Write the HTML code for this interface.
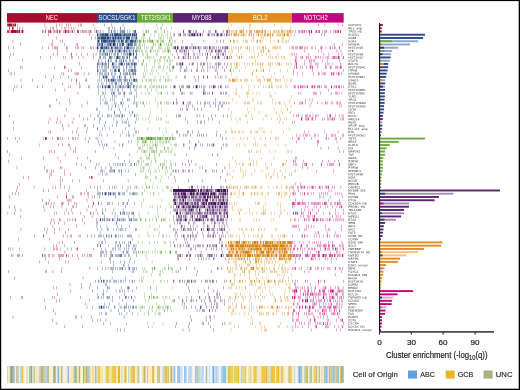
<!DOCTYPE html><html><head><meta charset="utf-8"><style>html,body{margin:0;padding:0;background:#fff;width:520px;height:390px;overflow:hidden}svg{display:block;will-change:transform;font-family:"Liberation Sans",sans-serif}</style></head><body><svg width="520" height="390" viewBox="0 0 520 390"><rect width="520" height="390" fill="#fff"/><g><path d="M7.00 25.00h0.73m0.36 0h3.99m0.36 0h0.36m0.36 0h1.09m0.36 0h1.45m1.09 0h0.36m27.22 0h0.36m11.25 0h0.36m2.90 0h0.36m1.81 0h0.36m3.99 0h0.36m1.81 0h0.36m1.81 0h0.36m7.62 0h0.36m1.81 0h0.36m0.36 0h0.36m11.25 0h0.36M9.18 28.25h0.73m2.18 0h1.09m0.36 0h0.36m3.27 0h0.36m1.81 0h0.36m2.90 0h0.36m22.86 0h0.36m4.35 0h0.36m1.81 0h0.36m0.36 0h0.36m2.90 0h0.36m4.72 0h0.36m2.54 0h0.36m0.73 0h0.36m2.54 0h0.36m2.54 0h0.36m1.81 0h0.36m20.69 0h0.36M7.00 31.49h0.73m0.36 0h0.73m0.73 0h0.36m0.36 0h0.36m0.36 0h5.81m0.36 0h1.45m0.36 0h1.09m1.09 0h0.36m0.36 0h1.45m18.87 0h0.36m0.36 0h0.36m1.81 0h0.73m2.54 0h1.09m0.73 0h1.09m2.18 0h0.36m0.73 0h0.73m1.09 0h0.36m0.36 0h0.73m1.45 0h0.73m0.36 0h0.36m2.54 0h0.36m1.09 0h1.45m0.36 0h0.36m0.73 0h0.36m0.36 0h0.73m0.73 0h0.36m0.73 0h0.36m0.73 0h0.73m1.81 0h0.36m2.18 0h0.73m0.36 0h0.73m1.81 0h0.36m1.45 0h0.73m0.73 0h0.36m1.09 0h0.36m0.36 0h0.36m1.45 0h0.36m0.73 0h0.36m1.09 0h0.73m3.63 0h0.36m1.09 0h0.73M48.37 34.73h0.36m40.28 0h0.36M56.72 37.98h0.36m34.48 0h0.36m3.27 0h0.36M12.81 41.23h0.36m38.83 0h0.36m8.35 0h0.36m1.09 0h0.36M20.06 44.47h0.36m30.48 0h0.36m1.45 0h0.36m11.61 0h0.36m10.89 0h0.36m1.09 0h0.36M8.09 47.72h0.36m4.72 0h0.36m29.03 0h0.36m5.08 0h0.36m4.35 0h0.36m1.45 0h0.36m0.73 0h0.73m1.09 0h0.36m8.71 0h0.73m8.35 0h0.36m1.09 0h0.36m0.73 0h0.36m3.27 0h0.36m1.09 0h0.36m6.90 0h0.36m0.36 0h0.36m1.45 0h0.36m2.54 0h0.36M57.08 50.96h0.36m9.44 0h0.36M10.63 54.20h0.36m2.54 0h0.36m39.19 0h0.36m3.63 0h0.36m13.43 0h0.36m0.36 0h0.36m3.99 0h0.36m4.72 0h0.36m5.81 0h0.36m5.81 0h0.36m2.18 0h0.36M9.18 57.45h0.36m30.85 0h0.36m9.80 0h0.36m12.34 0h0.36m1.81 0h0.36m5.81 0h0.73m5.81 0h0.36m4.35 0h0.36m10.16 0h0.36M22.24 60.70h0.36M79.58 63.94h0.36M20.06 67.19h0.36m1.45 0h0.36m32.30 0h0.36m9.07 0h0.36m0.36 0h0.36m0.73 0h0.36m15.24 0h0.36M8.09 70.43h0.36m59.88 0h0.36m2.90 0h0.36M9.90 73.68h0.36m1.45 0h0.36m2.54 0h0.36m46.81 0h0.36m1.09 0h0.36m11.25 0h0.36m0.73 0h0.36m0.73 0h0.36m0.73 0h0.36m5.44 0h0.36m3.99 0h0.36M45.10 76.92h0.36m7.98 0h0.36m6.53 0h0.36m7.62 0h0.36M20.79 80.16h0.36m10.89 0h0.36m18.87 0h0.36m19.96 0h0.36m3.99 0h0.36m0.36 0h0.36m8.71 0h0.36m0.36 0h0.36M62.52 83.41h0.36m13.79 0h0.36m2.54 0h0.36M14.62 86.66h0.36m1.81 0h0.36m3.99 0h0.36m15.97 0h0.36m4.72 0h0.36m25.77 0h0.36m1.45 0h0.36m8.35 0h0.36m0.36 0h0.36m8.35 0h0.73M13.53 89.90h0.36m41.73 0h0.36m7.98 0h0.36M77.77 93.14h0.36M56.35 99.64h0.36m12.70 0h0.36M59.26 102.88h0.36m10.16 0h0.36m17.42 0h0.36M49.10 106.12h0.36m0.73 0h0.36m31.21 0h0.36M66.52 109.37h0.36m29.40 0h0.36M9.54 115.86h0.36m54.80 0h0.36m14.52 0h0.36m10.52 0h0.36M49.82 119.11h0.36m7.26 0h0.36m15.97 0h0.36m9.44 0h0.36m3.63 0h0.36m6.53 0h0.36M13.53 122.35h0.36m34.11 0h0.36m7.98 0h0.36m3.27 0h0.36m11.61 0h0.36M62.52 125.59h0.36m5.81 0h0.36m15.60 0h0.73m7.62 0h0.36M13.17 128.84h0.36m50.08 0h0.36m13.79 0h0.36m9.07 0h0.36M48.73 132.09h0.36m1.45 0h0.36m21.05 0h0.36m3.99 0h0.36m9.44 0h0.36M78.13 135.33h0.36M7.00 138.57h0.36m7.98 0h0.36m3.27 0h0.36m23.59 0h0.36m1.81 0h1.45m5.44 0h0.36m5.08 0h0.73m0.36 0h0.36m1.09 0h0.36m1.81 0h0.36m5.81 0h0.36m3.63 0h0.36m0.36 0h0.36m1.81 0h0.36m2.18 0h0.36m6.90 0h0.36m4.35 0h0.36m5.81 0h0.36M17.52 141.82h0.36m70.77 0h0.36M39.66 145.06h0.36m18.51 0h0.36m3.27 0h0.36m5.81 0h0.36m0.36 0h0.36M70.51 148.31h0.36m4.35 0h0.36M7.00 151.56h0.36m42.10 0h0.36m1.81 0h0.36m2.18 0h0.36m18.51 0h0.36m1.81 0h0.36m19.60 0h0.36M9.18 154.80h0.36m55.89 0h0.36M21.15 158.05h0.36m21.77 0h0.36m14.15 0h0.36m18.87 0h0.36m9.80 0h0.36M8.45 161.29h0.36m51.17 0h0.36m29.76 0h0.36M76.31 164.53h0.36m4.72 0h0.36m14.52 0h0.36M16.80 167.78h0.36m27.22 0h0.36m15.60 0h0.36m1.09 0h0.36m22.86 0h0.36m10.16 0h0.36M46.19 171.03h0.36m1.09 0h0.36m3.63 0h0.36m1.45 0h0.36m10.52 0h0.36M49.82 174.27h0.36m0.73 0h0.36m13.43 0h0.36m5.44 0h0.36M22.97 177.52h0.36m5.08 0h0.36m20.69 0h0.36m10.52 0h0.36m28.31 0h0.36m1.81 0h0.73m0.73 0h0.36M59.98 180.76h0.36m2.18 0h0.36m9.80 0h0.36m6.53 0h0.36M19.34 184.00h0.36m41.01 0h0.36M17.52 187.25h0.36m15.97 0h0.36m18.51 0h0.36m2.18 0h0.36m4.72 0h0.36m3.63 0h0.36m4.72 0h0.36m20.32 0h0.36m3.99 0h0.36M16.07 190.50h0.36m27.22 0h0.36m4.35 0h0.36m19.96 0h0.36m17.42 0h0.36M12.08 193.74h0.36m2.54 0h0.36m2.90 0h0.36m47.90 0h0.36m13.43 0h0.36m0.73 0h0.36m2.90 0h0.36m2.54 0h0.36m0.73 0h0.36M9.54 196.99h0.36m47.54 0h0.36m8.35 0h0.73m5.81 0h0.36m0.36 0h0.36m14.15 0h0.36m3.63 0h0.36m2.18 0h0.36M42.56 200.23h0.36m6.17 0h0.36m17.42 0h0.36m0.73 0h0.36m0.73 0h0.36m1.45 0h0.36m15.60 0h0.36M45.83 203.47h0.73m1.45 0h0.36m2.54 0h0.36m2.54 0h0.36m7.26 0h0.36m0.36 0h0.36m0.36 0h0.36m5.44 0h0.36m5.44 0h0.36m1.09 0h0.36m16.69 0h0.73M9.54 206.72h0.36m4.35 0h0.36m29.03 0h0.36m6.53 0h0.36m2.18 0h0.36m8.35 0h0.36m10.52 0h0.36m0.36 0h0.36m2.54 0h0.36m11.61 0h0.36m3.99 0h0.36M14.98 209.97h0.36m5.44 0h0.36m23.59 0h0.36m21.41 0h0.36m4.72 0h0.36m14.88 0h0.36m8.71 0h0.36M7.73 213.21h0.36m6.53 0h0.36m39.56 0h0.36m1.09 0h0.36m8.35 0h0.36m3.27 0h0.36m3.99 0h0.36m7.62 0h0.36m9.07 0h0.36m0.36 0h0.36m1.81 0h0.36M20.43 216.46h0.36m63.15 0h0.36m7.62 0h0.36M51.64 219.70h0.36m1.81 0h0.36m5.44 0h0.36m0.73 0h0.36m6.53 0h0.36m1.81 0h0.36m2.54 0h0.36m1.81 0h0.36m0.36 0h0.36m6.53 0h0.36m13.79 0h0.36M50.19 222.94h0.36m3.63 0h0.36m3.63 0h0.36m5.44 0h0.36m20.32 0h0.36m11.61 0h0.36M52.00 226.19h0.36m24.31 0h0.36m19.23 0h0.36M20.79 229.44h0.36m22.86 0h0.36m2.54 0h0.36m6.90 0h0.36m5.08 0h0.36m8.35 0h0.36M46.56 232.68h0.36m7.26 0h0.36m10.89 0h0.36M34.58 235.93h0.36m8.35 0h0.73m19.23 0h0.36m3.63 0h0.36m2.54 0h0.36m1.09 0h0.36m6.90 0h0.36m0.73 0h0.36m7.26 0h0.36m3.63 0h0.36m2.18 0h0.36M18.25 239.17h0.36m30.48 0h0.36M58.90 242.42h0.36m2.90 0h0.36m11.98 0h0.36M53.09 245.66h0.36m2.54 0h0.36m7.62 0h0.36M8.45 248.91h0.36m1.45 0h0.36m2.18 0h0.36m5.81 0h0.36m25.40 0h0.36m8.35 0h0.36m0.36 0h0.36m1.45 0h0.36m0.73 0h0.36m2.90 0h0.36m6.90 0h0.36m3.63 0h0.36m3.99 0h0.36m1.09 0h0.73m15.60 0h0.36M64.70 252.15h0.36M10.99 255.40h0.36m1.45 0h0.36m3.99 0h0.36m1.09 0h0.73m2.90 0h0.36m19.60 0h0.73m1.09 0h0.36m0.73 0h0.36m2.90 0h0.36m0.73 0h0.36m2.18 0h0.36m1.45 0h0.36m4.35 0h0.36m0.73 0h0.73m0.73 0h0.36m1.09 0h0.36m0.36 0h0.36m2.54 0h0.73m1.81 0h0.36m3.27 0h0.36m4.35 0h0.36m5.08 0h0.36m1.09 0h0.36m2.90 0h0.36m1.81 0h0.36m0.36 0h0.36m0.73 0h0.36M45.47 258.64h0.36m13.43 0h0.36m18.87 0h0.36M39.30 261.88h0.36m8.71 0h0.36m16.33 0h0.36m2.54 0h0.36M61.80 268.38h0.36m27.58 0h0.36M8.09 271.62h0.36m36.65 0h0.36m0.73 0h0.36m6.17 0h0.36m8.35 0h0.36M14.62 278.11h0.36m67.86 0h0.36M95.19 281.36h0.36M69.78 284.60h0.36m10.89 0h0.36m9.07 0h0.36M53.45 287.85h0.36m2.18 0h0.36m25.04 0h0.36m7.26 0h0.36M70.51 291.09h0.36m21.41 0h0.36M57.08 294.34h0.36M10.63 297.58h0.36m10.16 0h0.36m0.73 0h0.36m29.40 0h0.36m2.18 0h0.36m25.77 0h0.36M44.02 300.82h0.36m11.61 0h0.36m3.27 0h0.36m29.03 0h0.36M85.02 304.07h0.36M45.10 307.31h0.36m41.37 0h0.36m5.08 0h0.36M53.09 310.56h0.36M54.90 313.81h0.36M12.81 317.05h0.36m62.06 0h0.36m0.36 0h0.36m5.08 0h0.36m9.80 0h0.36M52.00 320.30h0.36m39.92 0h0.36M56.72 323.54h0.36M64.34 326.79h0.36m17.78 0h0.36" stroke="#a50d2c" stroke-width="3.0" fill="none"/><path d="M104.64 25.00h0.36m6.55 0h0.36m10.91 0h0.36M108.27 28.25h0.36m0.73 0h0.36m2.91 0h0.36m1.09 0h0.36m5.45 0h0.36m0.36 0h0.36m3.64 0h0.36M97.73 31.49h0.36m0.73 0h0.36m1.45 0h0.36m1.82 0h0.36m5.45 0h0.36m0.36 0h0.36m1.45 0h0.73m1.82 0h0.73m0.73 0h0.36m1.82 0h0.36m2.18 0h0.73m0.73 0h0.36m0.73 0h0.73m0.36 0h0.73m0.36 0h0.36m2.55 0h0.36m1.82 0h0.36m2.91 0h0.36m1.09 0h1.45M97.00 34.73h1.09m0.36 0h0.36m0.73 0h0.36m0.36 0h1.45m0.36 0h1.82m0.36 0h4.00m0.36 0h0.36m0.73 0h1.09m0.73 0h1.82m0.73 0h4.73m0.36 0h2.18m0.36 0h0.73m0.36 0h0.36m0.36 0h2.18m0.36 0h0.73m0.36 0h0.73m0.36 0h1.45m0.36 0h1.09m0.73 0h1.82m0.36 0h1.45m0.36 0h1.09M97.00 37.98h0.36m0.36 0h1.09m0.36 0h1.45m0.36 0h5.45m0.36 0h2.18m0.36 0h1.45m0.36 0h0.36m0.73 0h2.18m0.36 0h1.82m0.36 0h0.73m0.36 0h1.09m0.36 0h1.45m0.36 0h1.09m0.73 0h1.09m0.36 0h0.36m0.36 0h0.36m0.36 0h4.00m1.45 0h0.73m0.36 0h0.36m0.36 0h0.36m0.73 0h0.36m0.36 0h0.36m0.36 0h1.09M97.00 41.23h0.36m0.36 0h1.82m1.45 0h1.09m0.36 0h4.36m0.36 0h1.09m0.36 0h1.45m0.36 0h1.45m0.36 0h2.91m0.36 0h0.36m0.73 0h0.36m0.36 0h0.36m0.73 0h0.73m0.36 0h0.73m0.73 0h1.82m0.36 0h0.73m1.09 0h0.73m0.36 0h1.09m0.36 0h1.09m1.09 0h3.27m0.36 0h0.73m0.36 0h1.45m0.36 0h0.36M97.00 44.47h0.36m0.36 0h0.73m0.73 0h0.73m0.36 0h0.36m0.36 0h0.73m0.36 0h1.09m1.09 0h0.36m1.09 0h0.36m0.73 0h0.73m0.36 0h0.73m0.73 0h2.18m0.73 0h0.36m0.36 0h2.18m0.36 0h0.36m1.09 0h0.73m1.45 0h0.36m0.36 0h0.73m0.73 0h0.36m0.36 0h1.82m2.55 0h0.36m0.73 0h1.82m0.36 0h1.09m0.36 0h0.73m0.36 0h0.73m1.45 0h0.73m0.36 0h0.36m0.36 0h0.36M97.00 47.72h1.45m1.45 0h0.73m0.36 0h2.55m0.73 0h1.45m0.36 0h1.45m0.73 0h0.73m0.73 0h0.36m0.73 0h1.82m1.09 0h0.73m0.73 0h1.45m0.36 0h0.73m0.73 0h0.36m0.73 0h0.73m0.36 0h0.36m0.36 0h0.36m0.36 0h0.36m1.82 0h1.09m0.73 0h0.36m0.36 0h2.55m0.73 0h0.36m0.36 0h0.36m0.36 0h0.36m0.73 0h0.36m0.36 0h0.36m0.36 0h0.36m1.82 0h0.36M97.00 50.96h0.36m1.82 0h0.36m0.73 0h0.73m0.73 0h0.36m1.09 0h1.45m2.18 0h0.36m0.73 0h0.36m0.73 0h0.36m0.73 0h0.36m0.36 0h0.36m0.73 0h1.09m1.82 0h0.36m0.36 0h0.73m0.73 0h0.36m0.73 0h0.36m0.36 0h1.45m0.36 0h0.36m0.73 0h0.36m0.73 0h0.36m0.36 0h0.36m0.36 0h1.09m1.09 0h0.73m0.73 0h0.36m1.09 0h0.73m0.73 0h0.36m0.73 0h0.36m1.09 0h0.73m1.45 0h0.73m0.36 0h0.36M99.18 54.20h0.36m0.73 0h0.36m1.09 0h0.36m0.36 0h0.36m0.36 0h0.36m1.09 0h0.73m0.36 0h0.73m0.73 0h0.73m1.09 0h0.36m0.36 0h0.36m1.09 0h0.36m2.18 0h0.36m0.36 0h0.36m0.36 0h0.36m1.82 0h1.09m2.55 0h0.36m1.82 0h0.36m0.73 0h0.36m1.09 0h0.36m0.73 0h0.73m0.36 0h0.36m0.73 0h2.55m1.45 0h1.09m2.18 0h0.73M99.18 57.45h0.36m0.36 0h0.73m2.91 0h0.73m1.09 0h0.36m3.27 0h0.73m0.36 0h0.73m0.73 0h0.73m2.18 0h0.36m1.09 0h0.73m0.36 0h1.45m0.36 0h0.73m0.73 0h0.36m1.45 0h0.36m0.36 0h0.73m0.73 0h0.36m1.45 0h0.36m0.73 0h0.73m1.09 0h0.36m0.36 0h0.36m2.91 0h0.36m1.45 0h0.36m0.36 0h1.09M98.45 60.70h0.73m2.55 0h0.36m3.27 0h0.36m2.55 0h0.73m1.09 0h0.36m0.73 0h0.36m3.64 0h0.36m0.73 0h0.73m2.55 0h0.73m0.73 0h0.36m0.36 0h0.36m1.09 0h0.73m1.09 0h0.36m1.09 0h0.36m2.18 0h0.36m0.73 0h0.36m2.18 0h0.73M97.36 63.94h1.09m0.36 0h0.36m0.73 0h0.36m0.73 0h0.36m0.73 0h0.73m0.73 0h0.36m0.73 0h0.36m0.36 0h1.09m1.82 0h0.73m2.91 0h1.45m0.36 0h0.36m0.73 0h0.36m0.73 0h0.36m2.18 0h0.36m0.36 0h0.36m0.36 0h0.73m0.36 0h1.82m1.09 0h0.36m0.36 0h0.36m1.45 0h1.09m0.73 0h0.73m0.36 0h0.36m1.09 0h0.73m0.36 0h0.36m0.36 0h0.36m0.36 0h0.36m0.36 0h1.09m0.36 0h1.09M97.00 67.19h0.73m1.45 0h0.36m1.45 0h0.36m1.09 0h0.36m1.45 0h0.36m0.73 0h0.36m0.73 0h0.36m1.09 0h0.36m0.36 0h0.36m2.91 0h0.36m0.73 0h0.36m0.36 0h0.73m1.09 0h0.36m0.36 0h0.36m1.09 0h0.36m0.73 0h0.36m0.36 0h0.36m3.64 0h0.36m2.55 0h0.73m2.18 0h0.36m1.09 0h0.36m0.73 0h0.36m1.82 0h0.73m0.36 0h0.36M97.00 70.43h0.73m0.36 0h0.36m2.18 0h0.36m1.45 0h0.36m0.73 0h0.36m0.36 0h0.36m0.36 0h0.36m1.09 0h0.36m3.27 0h0.36m1.45 0h0.36m2.18 0h1.45m0.73 0h0.36m1.09 0h1.82m3.64 0h0.36m0.36 0h0.36m1.45 0h0.36m2.18 0h0.36m0.73 0h0.36m0.36 0h0.36m0.36 0h0.73m0.36 0h0.73m0.73 0h0.73m0.36 0h0.73m0.36 0h0.36M97.00 73.68h0.36m2.18 0h0.36m0.73 0h0.36m0.73 0h0.73m2.18 0h0.73m1.09 0h0.36m1.09 0h0.36m0.36 0h0.36m2.55 0h0.73m1.82 0h0.36m1.09 0h0.36m4.00 0h0.73m2.91 0h0.73m1.09 0h0.36m0.36 0h0.36m0.36 0h0.73m1.82 0h0.73m0.73 0h0.36m1.45 0h1.09m0.36 0h0.36m0.73 0h0.73M99.18 76.92h0.36m3.27 0h1.09m0.36 0h0.36m0.36 0h0.36m0.36 0h1.09m0.36 0h0.36m5.09 0h0.36m0.36 0h0.36m0.73 0h0.36m2.91 0h0.36m1.09 0h1.09m0.73 0h0.36m3.27 0h0.73m0.36 0h0.36m4.00 0h0.36m0.36 0h0.36m1.82 0h0.36M97.73 80.16h0.36m1.09 0h0.36m1.45 0h0.36m2.91 0h0.36m1.45 0h0.36m0.36 0h0.36m1.09 0h1.09m1.09 0h0.36m0.36 0h1.09m0.36 0h1.82m0.73 0h0.36m0.36 0h0.36m1.45 0h0.36m0.36 0h0.36m0.73 0h1.09m0.73 0h0.36m2.18 0h0.73m0.36 0h0.73m1.09 0h0.73m1.45 0h0.73m1.82 0h0.36m1.09 0h0.73m0.36 0h1.09m0.36 0h0.36m0.36 0h0.73M98.09 83.41h0.36m2.91 0h0.36m1.09 0h0.36m3.27 0h0.36m2.55 0h0.36m1.82 0h0.36m0.73 0h0.36m1.82 0h0.36m0.36 0h0.73m0.36 0h0.36m1.82 0h0.36m1.82 0h0.36m0.36 0h0.36m2.55 0h0.36m2.18 0h0.36m0.36 0h0.73m1.45 0h0.36m0.73 0h0.36m0.36 0h0.36M97.36 86.66h0.36m0.73 0h0.36m1.09 0h0.36m1.82 0h1.09m1.09 0h0.36m0.36 0h0.73m0.36 0h0.36m0.73 0h0.36m0.36 0h2.55m2.18 0h0.36m0.36 0h0.36m1.45 0h0.36m0.36 0h0.36m1.09 0h0.36m1.09 0h0.73m0.73 0h0.73m0.73 0h0.36m0.36 0h0.36m0.73 0h0.73m0.73 0h0.36m1.45 0h0.73m0.36 0h1.09m0.36 0h0.36m0.36 0h0.36m0.36 0h0.36m2.18 0h1.09m2.18 0h0.36M98.45 89.90h0.36m6.55 0h0.36m5.09 0h0.36m1.09 0h0.36m2.18 0h0.36m2.55 0h0.73m4.00 0h0.36m7.27 0h0.36m4.36 0h0.36m0.73 0h0.36M98.09 93.14h0.36m4.00 0h0.36m0.36 0h0.36m2.18 0h0.36m5.45 0h0.73m1.09 0h1.09m3.64 0h0.36m0.73 0h0.36m1.09 0h0.36m2.55 0h0.36m0.36 0h0.73m4.36 0h0.36m1.09 0h0.36m0.36 0h0.36m4.73 0h0.36M100.27 96.39h0.36m4.00 0h0.36m7.27 0h0.36m1.82 0h0.36m1.09 0h0.36m7.64 0h0.36m9.82 0h0.36m2.18 0h0.36M99.91 99.64h0.36m2.55 0h0.36m2.55 0h0.36m4.36 0h0.36m1.45 0h0.36m1.45 0h0.36m7.64 0h0.36m4.73 0h0.36m0.36 0h0.36m1.45 0h0.36m4.00 0h0.36M100.64 102.88h0.36m2.91 0h0.36m1.09 0h0.36m0.36 0h0.36m1.09 0h0.36m6.55 0h0.36m1.09 0h0.36m4.36 0h0.73m0.36 0h0.36m1.09 0h0.36m10.18 0h0.36m0.73 0h0.36m1.09 0h0.36M107.91 106.12h0.36m3.64 0h0.36m2.91 0h0.73m2.55 0h0.36m3.64 0h0.36m5.45 0h0.36m7.64 0h0.36M97.36 109.37h0.36m10.91 0h0.36m2.18 0h0.36m7.64 0h0.36m5.82 0h0.36M99.55 112.62h0.36m14.18 0h0.73m5.45 0h0.36m8.73 0h0.36m2.18 0h0.36m0.36 0h0.36M97.00 115.86h0.36m1.09 0h0.36m3.27 0h0.36m5.09 0h0.36m0.73 0h0.36m0.73 0h0.36m1.45 0h0.36m2.91 0h0.36m0.73 0h0.36m0.73 0h0.36m1.45 0h0.36m0.36 0h0.36m1.45 0h0.36m0.36 0h0.73m1.82 0h0.36m5.82 0h0.36m2.91 0h0.73m1.09 0h0.36M99.18 119.11h0.36m0.73 0h0.36m13.09 0h0.36m7.64 0h0.36m5.45 0h0.36m8.73 0h0.36M99.18 122.35h0.36m5.45 0h0.36m11.27 0h0.36m0.36 0h0.36m4.36 0h0.36m1.45 0h0.36m1.45 0h0.36m0.36 0h0.36m1.82 0h0.36m6.18 0h0.36M104.27 125.59h0.36m8.00 0h0.36m3.64 0h0.36m11.27 0h0.36m1.09 0h0.36M97.36 128.84h0.73m4.00 0h0.36m2.55 0h0.36m4.00 0h0.36m15.64 0h0.36m8.36 0h0.36M99.91 132.09h0.36m12.73 0h0.36m9.09 0h0.36m5.45 0h0.36m6.91 0h0.36m0.36 0h0.36M99.18 135.33h0.36m2.18 0h0.36m5.09 0h0.36m12.73 0h0.36m5.82 0h0.36m1.45 0h0.36m0.73 0h0.36m3.64 0h0.36M97.73 138.57h0.36M98.09 141.82h0.36m2.91 0h0.36m13.09 0h0.36m13.45 0h0.36m2.55 0h0.36M99.18 145.06h0.36m2.55 0h0.36m2.18 0h0.36m1.45 0h0.73m12.00 0h0.36m2.55 0h0.36m0.36 0h0.36M103.55 148.31h0.36m9.82 0h0.36M115.55 154.80h0.36m13.45 0h0.36M118.09 158.05h0.36M124.64 161.29h0.36m4.36 0h0.36M98.82 164.53h0.36m9.82 0h0.36m4.36 0h0.36m1.45 0h0.36m1.45 0h0.36m1.09 0h0.36m1.45 0h0.36m1.09 0h0.36m0.36 0h0.36m1.82 0h0.36m4.73 0h0.36m0.73 0h0.36m2.55 0h0.73m1.45 0h0.36M101.00 167.78h0.36m4.36 0h0.36m4.36 0h0.36m0.73 0h0.36M100.27 171.03h0.36m0.36 0h0.36m1.09 0h0.36m1.09 0h0.36m5.45 0h0.73m0.73 0h0.36m1.09 0h0.36m0.36 0h0.36m0.36 0h0.73m4.00 0h0.36m0.36 0h0.36m1.09 0h0.36m0.36 0h0.36m3.64 0h0.36m2.18 0h0.36M98.82 174.27h0.36m2.91 0h0.36m3.27 0h0.36m0.73 0h0.36m14.18 0h0.36m13.82 0h0.36M103.55 180.76h0.36m24.00 0h0.36M97.36 187.25h0.36m2.91 0h0.36m8.36 0h0.36m2.55 0h0.36m1.45 0h0.36m1.45 0h0.36m6.18 0h0.36m5.09 0h0.36m1.82 0h0.36m4.36 0h0.36m1.45 0h0.36M97.73 190.50h0.36m28.73 0h0.36M97.36 193.74h0.36m0.73 0h0.36m0.73 0h0.36m0.73 0h0.36m1.09 0h0.73m1.45 0h0.36m0.36 0h1.45m1.82 0h0.73m0.36 0h0.36m0.36 0h1.09m0.73 0h0.36m0.73 0h0.36m0.36 0h0.73m1.09 0h0.36m2.55 0h1.09m0.36 0h0.36m2.18 0h0.36m0.36 0h0.36m0.73 0h0.36m4.73 0h0.36m1.09 0h0.36m1.45 0h1.09m0.73 0h0.36m0.36 0h0.36m1.09 0h0.36M99.18 196.99h0.36m15.64 0h0.36M128.64 200.23h0.36M98.09 203.47h0.73m2.55 0h0.36m5.82 0h0.36m0.36 0h0.36m0.36 0h0.36m2.55 0h0.36m6.18 0h0.36m4.00 0h0.73m3.27 0h0.36m0.36 0h0.36m6.55 0h0.36M125.00 206.72h0.36M102.09 209.97h0.36m2.91 0h0.36m8.00 0h0.36m9.45 0h0.36M97.73 213.21h0.36m4.00 0h0.36m0.36 0h0.36m8.73 0h0.36m3.27 0h0.36m4.36 0h0.73m1.09 0h0.36m1.09 0h1.09m1.45 0h0.36m1.45 0h0.36m1.09 0h0.36m1.82 0h0.36m0.73 0h1.09M104.27 216.46h0.36m10.18 0h0.36m2.55 0h0.36m10.55 0h0.36m4.73 0h0.36M99.91 219.70h1.09m1.09 0h0.36m0.36 0h0.36m0.73 0h0.36m0.36 0h0.36m1.45 0h0.36m0.73 0h0.73m0.73 0h0.36m0.36 0h0.36m2.18 0h1.09m1.45 0h0.36m2.18 0h0.73m0.73 0h0.36m0.36 0h0.73m1.09 0h0.36m0.36 0h0.36m0.73 0h0.36m0.36 0h0.36m0.73 0h0.36m3.64 0h0.36m0.36 0h0.36m0.36 0h0.36m0.36 0h0.73m1.82 0h0.36m0.36 0h0.36m0.73 0h0.36m0.73 0h0.36M97.36 222.94h0.36m18.18 0h0.73M100.27 226.19h0.36m6.18 0h0.36m9.82 0h0.36m3.64 0h0.36m7.64 0h0.36M97.36 229.44h0.36m4.00 0h0.36m5.45 0h0.73m5.45 0h0.36m2.18 0h0.36m2.18 0h0.36m1.09 0h0.36m0.73 0h0.36m1.09 0h0.36m2.55 0h0.36m9.09 0h0.36m0.73 0h0.36M99.91 232.68h0.36M98.09 235.93h0.36m1.09 0h0.36m0.36 0h0.36m1.09 0h0.36m1.45 0h0.36m2.18 0h0.36m0.36 0h0.36m1.45 0h0.36m0.36 0h0.36m1.45 0h0.73m3.27 0h0.73m0.36 0h0.36m1.45 0h0.36m2.18 0h0.36m1.45 0h0.36m4.36 0h0.36m0.73 0h0.36m0.73 0h0.36m0.36 0h0.36m1.09 0h0.36M104.27 239.17h0.36m27.27 0h0.36M98.82 242.42h0.36m2.55 0h0.73m2.91 0h0.36m9.45 0h0.36m1.09 0h0.36m2.18 0h0.36m2.55 0h0.36m1.82 0h0.36m3.64 0h0.36m1.45 0h0.73M97.00 245.66h0.36m0.36 0h0.36m2.18 0h0.73m7.64 0h0.36m6.18 0h0.36m1.82 0h0.36m0.36 0h0.36m1.82 0h0.73m5.45 0h0.36m1.82 0h0.36m0.36 0h0.36m3.64 0h0.36m0.73 0h0.36m1.09 0h0.36M101.36 248.91h0.36m3.27 0h0.36m7.27 0h0.36m0.73 0h0.36m1.09 0h0.36m3.27 0h0.36m0.73 0h0.36m4.00 0h0.36m1.45 0h0.36m1.82 0h0.36m3.64 0h0.36m2.18 0h0.36m0.36 0h0.36M100.27 252.15h0.36m0.73 0h0.36m0.36 0h0.36m1.09 0h0.36m1.82 0h0.36m0.36 0h0.36m3.64 0h0.36m0.73 0h0.36m10.91 0h0.73m2.91 0h0.36m0.36 0h0.36m0.36 0h0.36m5.45 0h0.36m0.73 0h0.36m1.45 0h0.36M100.27 255.40h0.36m0.73 0h0.36m2.91 0h0.36m1.45 0h0.36m3.27 0h0.36m1.09 0h0.73m0.36 0h0.36m2.55 0h0.36m0.73 0h0.36m0.73 0h0.73m1.09 0h0.73m0.36 0h1.09m2.55 0h0.36m1.09 0h0.36m2.55 0h0.73m7.27 0h0.36M109.00 258.64h0.36m0.73 0h0.36m19.64 0h0.36M101.00 261.88h0.36m9.09 0h0.36m2.55 0h0.36m6.55 0h0.36m4.00 0h0.36m4.00 0h0.36m4.73 0h0.36M113.00 265.13h0.36m9.82 0h0.36m0.36 0h0.36m4.00 0h0.36M97.00 268.38h0.36m5.09 0h0.36m2.91 0h0.36m1.82 0h0.36m1.82 0h0.36m1.09 0h0.36m0.36 0h0.36m0.73 0h0.36m1.45 0h0.36m1.45 0h0.36m1.82 0h0.36m0.73 0h0.36m0.36 0h0.36m0.73 0h0.73m2.18 0h0.36m2.91 0h0.36m0.73 0h0.73m2.18 0h0.36m1.09 0h0.73m1.82 0h0.36M112.27 271.62h0.36m19.27 0h0.36m0.73 0h0.36M100.27 278.11h0.36m11.27 0h0.36m13.09 0h0.36M98.09 281.36h0.36m0.36 0h0.36m1.82 0h0.73m1.45 0h0.73m0.36 0h0.36m1.45 0h0.36m0.73 0h0.36m1.45 0h0.36m0.73 0h0.36m2.55 0h0.36m1.09 0h0.36m0.36 0h0.36m0.73 0h0.36m1.45 0h0.36m2.18 0h0.73m1.82 0h0.36m2.18 0h0.36m3.27 0h0.36m2.18 0h0.36m0.36 0h0.36m1.09 0h0.36M105.00 284.60h0.36m0.73 0h0.36M97.36 287.85h0.36m9.45 0h0.36m0.36 0h0.36m1.09 0h0.36m11.27 0h0.36m6.18 0h1.09m0.36 0h0.36m7.27 0h0.36M103.18 291.09h0.36m3.27 0h0.36m8.73 0h0.36m2.91 0h0.36m0.36 0h0.36m1.82 0h0.36m1.82 0h0.36m3.27 0h0.36m4.00 0h0.36M97.00 294.34h0.36m5.45 0h0.73m20.73 0h0.36M97.73 297.58h0.73m2.55 0h0.36m2.18 0h0.36m2.91 0h0.36m0.36 0h0.36m0.36 0h0.36m0.36 0h0.36m3.27 0h0.36m6.18 0h0.36m5.82 0h0.73m0.36 0h0.36m1.45 0h0.36m2.55 0h0.73m2.91 0h0.36M112.64 300.82h0.36m9.45 0h0.36m10.91 0h0.36M104.27 304.07h0.36m4.36 0h0.36m9.45 0h0.36m7.27 0h0.36M98.82 307.31h0.36m0.36 0h0.36m0.36 0h0.36m0.36 0h1.09m0.73 0h0.73m0.73 0h0.36m1.82 0h0.36m1.82 0h0.36m5.45 0h0.73m4.73 0h0.36m1.45 0h0.36m1.82 0h0.36m0.36 0h0.36m0.73 0h0.73m2.18 0h0.36m1.45 0h0.36m1.45 0h0.36m0.36 0h0.73m1.45 0h0.36m0.73 0h0.36M110.82 310.56h0.36m6.91 0h0.36m5.82 0h0.36m4.36 0h0.36M99.18 313.81h0.36m1.82 0h0.36m3.27 0h0.36m1.09 0h0.36m12.73 0h0.36m1.09 0h0.36m5.45 0h0.36m5.45 0h0.36M123.91 317.05h0.36M97.00 320.30h0.36m3.27 0h0.36m4.73 0h0.36M103.18 323.54h0.36m6.91 0h0.36m15.64 0h0.36M117.00 330.03h0.36m3.27 0h0.36m3.27 0h0.36" stroke="#27457f" stroke-width="3.0" fill="none"/><path d="M143.91 25.00h0.36m12.36 0h0.36m5.45 0h0.36M157.36 28.25h0.36m2.91 0h0.36m0.36 0h0.36m4.36 0h0.36m5.09 0h0.36M142.82 31.49h0.36m2.55 0h1.09m1.09 0h0.36m0.36 0h0.36m5.45 0h0.36m0.36 0h0.36m0.73 0h0.36m4.73 0h0.36m2.55 0h0.73m2.55 0h0.36M142.82 34.73h0.36m0.36 0h0.36m0.36 0h0.73m5.82 0h0.36m2.91 0h0.36m4.36 0h0.36m2.55 0h0.36m0.73 0h0.36m2.55 0h0.36m1.45 0h0.36m2.55 0h0.36M137.73 37.98h0.36m3.64 0h0.36m1.09 0h0.36m0.36 0h0.36m4.73 0h0.36m0.36 0h0.36m8.73 0h0.36m1.09 0h0.36m0.36 0h0.36m2.18 0h0.36m3.64 0h0.36m1.09 0h0.36m1.45 0h0.73M137.00 41.23h0.73m1.09 0h1.09m0.36 0h0.73m0.36 0h0.36m1.45 0h1.09m1.09 0h0.36m1.82 0h0.73m0.73 0h0.36m0.36 0h0.36m0.36 0h0.73m0.36 0h1.45m0.73 0h0.36m1.82 0h0.36m0.73 0h0.73m0.73 0h0.36m1.45 0h0.36m0.36 0h0.36m0.73 0h0.36m0.36 0h0.73m5.45 0h0.73m0.73 0h0.36m1.45 0h0.36M138.82 44.47h0.36m0.36 0h0.73m1.82 0h0.36m2.18 0h0.36m8.36 0h0.73m1.09 0h0.36m3.27 0h0.36m0.73 0h1.09m0.36 0h0.36m2.18 0h0.36m1.82 0h0.36m1.45 0h0.36m0.36 0h0.36m1.09 0h0.36m1.09 0h0.73M137.00 47.72h0.36m1.09 0h0.73m0.73 0h0.73m3.64 0h0.36m1.82 0h0.36m1.09 0h0.36m2.55 0h0.36m0.73 0h0.36m0.36 0h0.36m5.09 0h0.36m0.73 0h0.36m1.09 0h0.36m0.73 0h0.36m2.91 0h0.36m1.82 0h0.36m0.36 0h0.36m1.09 0h0.36m2.18 0h0.36M137.36 50.96h0.36m1.09 0h0.36m0.36 0h0.36m1.09 0h0.36m0.73 0h0.36m2.55 0h0.36m1.09 0h0.36m3.27 0h0.73m0.36 0h0.36m1.82 0h0.36m1.82 0h0.36m1.82 0h0.36m0.73 0h0.36m3.64 0h0.36m1.09 0h0.36m0.73 0h0.36m1.45 0h0.36m0.36 0h1.45m1.09 0h0.36M142.45 54.20h0.36m0.73 0h0.36m2.91 0h0.36m0.36 0h0.36m8.00 0h0.36m0.73 0h0.36m14.91 0h0.36M145.00 57.45h0.36m1.45 0h0.36m0.36 0h0.36m0.73 0h0.36m0.73 0h0.36m0.73 0h0.36m1.82 0h0.36m7.27 0h0.73m1.82 0h0.36m1.09 0h0.36m0.36 0h0.36m2.55 0h0.36m0.36 0h0.36M138.45 60.70h0.36m4.36 0h0.73m5.82 0h0.36m4.00 0h0.36m0.73 0h0.36m2.18 0h0.36m1.45 0h0.36m0.36 0h0.36m3.64 0h0.36m2.18 0h0.73m2.18 0h0.36m0.36 0h0.36m1.45 0h0.36M141.00 63.94h0.36m1.09 0h0.73m3.27 0h0.36m7.64 0h0.36m4.00 0h0.36m5.45 0h0.36m4.00 0h0.36m1.09 0h0.36M144.64 67.19h0.36m1.45 0h0.36m5.82 0h0.36m1.09 0h0.36m4.00 0h0.36m0.36 0h0.36m1.09 0h0.36m2.18 0h0.36m3.64 0h0.36m1.82 0h0.36m2.55 0h0.73M144.64 70.43h0.36m1.82 0h0.36m4.36 0h0.36m1.09 0h0.36m2.91 0h0.36m6.18 0h0.36m6.18 0h0.36m0.36 0h0.36m2.18 0h0.36M143.18 73.68h0.36m1.45 0h0.36m5.09 0h0.36m1.09 0h0.36m5.82 0h0.36m8.36 0h0.36M143.18 76.92h0.36m0.73 0h0.36m10.18 0h0.36m5.09 0h0.36m2.91 0h0.36m4.00 0h0.36M137.00 80.16h0.36m4.73 0h0.36m3.27 0h0.73m2.18 0h0.36m0.73 0h0.36m0.36 0h0.36m0.36 0h0.36m1.82 0h0.36m0.73 0h0.36m1.09 0h0.36m2.91 0h0.36m0.73 0h0.36m4.73 0h0.73m1.45 0h0.36m0.36 0h0.36m0.36 0h0.36m2.18 0h0.36M137.00 83.41h0.36m13.82 0h0.36M137.73 86.66h0.36m1.09 0h0.36m0.73 0h0.36m0.73 0h0.36m2.18 0h0.36m1.09 0h0.73m3.64 0h0.36m0.73 0h0.36m1.45 0h0.36m0.36 0h0.36m0.73 0h0.36m1.82 0h0.36m0.73 0h0.36m0.73 0h0.36m0.36 0h0.36m1.09 0h0.36m0.36 0h0.36m1.09 0h0.36m1.82 0h0.36m1.09 0h0.36m3.27 0h0.36M147.18 89.90h0.36m4.00 0h0.36m4.00 0h0.36M141.36 93.14h0.36m4.00 0h0.36m2.18 0h0.36m1.09 0h0.36m7.64 0h0.36m1.82 0h0.36m0.73 0h0.73m5.82 0h0.36m4.00 0h0.36M155.55 99.64h0.36M137.73 102.88h0.36m2.18 0h0.36m1.45 0h0.36m0.73 0h0.73m2.55 0h0.36m2.91 0h0.36m7.64 0h0.36m1.82 0h0.73m0.73 0h0.36m2.55 0h0.36m1.45 0h0.36m0.73 0h0.36m1.09 0h0.36m1.82 0h0.36M137.00 106.12h0.36m7.27 0h0.36m12.73 0h0.36M161.36 109.37h0.36M150.45 112.62h0.36M137.73 115.86h0.36m11.27 0h0.36m16.36 0h0.36M138.09 119.11h0.36m4.36 0h0.36m2.55 0h0.36m2.55 0h0.36m7.27 0h0.36m1.82 0h0.36m1.45 0h0.36m0.73 0h0.36M149.00 122.35h0.36m16.73 0h0.36m1.45 0h0.36M147.18 128.84h0.36m11.64 0h0.36m6.18 0h0.36M138.45 132.09h0.36m27.64 0h0.36M163.55 135.33h0.36m8.36 0h0.36M137.00 138.57h0.73m1.09 0h0.36m0.36 0h0.36m0.36 0h0.36m0.36 0h1.82m0.73 0h0.36m0.36 0h0.36m1.09 0h1.09m0.36 0h2.55m0.36 0h2.18m0.36 0h0.36m0.36 0h0.73m0.36 0h1.09m0.36 0h0.36m1.09 0h0.73m0.36 0h0.73m0.36 0h1.45m0.36 0h0.36m0.36 0h0.36m0.36 0h0.36m0.73 0h0.36m0.73 0h0.73m0.36 0h0.36m0.36 0h1.09m1.09 0h0.73m0.73 0h0.73m1.09 0h0.73M137.00 141.82h0.36m1.09 0h0.36m3.27 0h0.36m0.36 0h0.36m0.36 0h0.36m0.73 0h1.45m0.36 0h0.36m3.27 0h0.36m1.82 0h0.36m2.55 0h0.36m1.45 0h0.36m2.18 0h0.36m0.73 0h0.36m1.45 0h0.36m0.36 0h0.36m1.45 0h0.36m0.73 0h0.73m1.82 0h0.36m0.36 0h0.36M137.73 145.06h0.36m4.73 0h0.36m1.09 0h0.36m2.55 0h0.36m2.18 0h0.36m1.82 0h0.36m1.45 0h0.36m1.09 0h0.73m0.36 0h0.36m0.36 0h0.36m2.55 0h0.36m2.55 0h0.36m7.64 0h0.36M138.09 148.31h0.36m0.73 0h0.36m0.36 0h0.36m2.18 0h0.36m4.73 0h0.36m1.82 0h0.73m0.73 0h0.36m0.73 0h0.36m3.27 0h0.73m7.64 0h0.73m2.18 0h0.36m1.09 0h0.36m2.91 0h0.36M137.00 151.56h0.36m3.64 0h0.36m1.82 0h0.36m0.36 0h0.36m0.36 0h0.73m1.45 0h0.36m2.55 0h0.36m1.09 0h0.36m1.09 0h0.36m0.36 0h1.09m1.45 0h0.73m4.00 0h0.36m0.73 0h0.36m0.73 0h0.36m1.82 0h0.36m0.73 0h0.36m1.82 0h0.36m1.82 0h0.36m0.36 0h0.36M145.73 154.80h0.36m2.91 0h0.73m4.73 0h0.36m4.00 0h0.36m0.36 0h0.36M140.64 158.05h0.36m0.36 0h0.36m4.36 0h0.36m1.09 0h0.36m0.73 0h0.73m4.73 0h0.36m1.09 0h0.36M137.00 161.29h0.36m0.73 0h0.36m0.36 0h0.36m2.55 0h0.36m1.45 0h0.36m7.27 0h0.36m3.64 0h0.36m0.36 0h0.36m8.36 0h0.36m1.09 0h0.36m4.36 0h0.36M138.09 164.53h0.36m2.55 0h0.36m4.36 0h0.36m0.36 0h0.36m0.73 0h0.36m0.73 0h0.36m1.82 0h0.36m8.73 0h0.36m0.36 0h0.36m1.45 0h0.36m0.36 0h0.36m0.73 0h0.36m5.82 0h0.36m0.36 0h0.36M140.27 167.78h0.36m1.45 0h0.36m1.09 0h0.73m4.73 0h0.36m8.73 0h0.36m3.64 0h0.73m2.91 0h0.36m0.36 0h0.36m2.18 0h0.36m1.82 0h0.36M140.64 171.03h0.36m0.73 0h0.36m1.09 0h0.36m5.09 0h0.36m1.09 0h0.36m4.36 0h0.36m1.45 0h0.36m2.18 0h0.36m6.18 0h0.36m1.09 0h0.36m5.09 0h0.36M145.73 174.27h0.36m4.36 0h0.36m14.55 0h0.36m4.36 0h0.36m0.73 0h0.36M145.36 177.52h0.36m0.73 0h0.36m0.36 0h0.36m8.00 0h0.36m0.73 0h0.36m4.00 0h0.36m6.91 0h0.36M150.09 180.76h0.36m10.18 0h0.36M145.36 184.00h0.36m8.00 0h0.36M137.73 187.25h0.36m4.36 0h0.36m3.27 0h0.73m1.09 0h0.36m0.73 0h0.36m0.36 0h0.36m2.55 0h0.36m4.00 0h0.36m8.73 0h0.36m1.09 0h0.73m3.64 0h0.36M144.27 190.50h0.36m18.18 0h0.36m6.91 0h0.36m0.73 0h0.36M137.00 193.74h0.36m4.36 0h0.73m7.64 0h0.36m2.55 0h0.36m0.36 0h0.36m4.00 0h0.36M143.55 200.23h0.36m17.82 0h0.36M141.73 203.47h0.36m26.91 0h0.36M141.36 206.72h0.36m8.36 0h0.36m1.82 0h0.36m5.09 0h0.36m2.18 0h0.36m9.45 0h0.36m1.09 0h0.36M157.00 209.97h0.36m8.00 0h0.36M138.82 213.21h0.36m8.73 0h0.36m9.45 0h0.36m12.36 0h0.36M139.18 216.46h0.36m15.64 0h0.36m2.55 0h0.36M137.36 219.70h0.36m2.55 0h0.73m0.36 0h0.36m3.64 0h0.73m3.27 0h0.36m2.91 0h0.36m2.91 0h0.73m4.36 0h0.73m1.09 0h0.36m0.36 0h0.36m0.36 0h0.36m0.36 0h0.36m4.36 0h0.36M149.00 226.19h0.36m10.18 0h0.36m9.82 0h0.36m0.36 0h0.36M154.09 229.44h0.36m0.73 0h0.36m2.18 0h0.36M147.55 232.68h0.36m11.64 0h0.36M138.82 235.93h0.36m8.73 0h0.36m1.45 0h0.36m3.64 0h0.36m4.00 0h0.36m4.00 0h0.36m0.36 0h0.36m2.91 0h0.36m2.55 0h0.36M138.09 242.42h0.36m3.64 0h0.36m6.91 0h0.36m4.73 0h0.36m2.18 0h0.36m6.91 0h0.36m0.73 0h0.36m4.73 0h0.36M170.09 245.66h0.36M155.18 248.91h0.36M138.09 252.15h0.73m1.45 0h0.36m1.45 0h0.73m1.09 0h0.36m1.82 0h0.36m1.45 0h0.36m4.36 0h0.36m1.82 0h0.36m2.18 0h0.36m2.18 0h0.36m0.36 0h0.36m0.36 0h0.73m2.91 0h0.36m4.36 0h1.45M145.73 255.40h0.36M146.82 258.64h0.36M151.91 261.88h0.36M168.27 265.13h0.36M142.09 268.38h0.36m2.18 0h0.36m6.91 0h0.36m0.36 0h0.36m1.09 0h1.09m7.27 0h0.36m1.45 0h0.36m0.73 0h0.36m2.55 0h0.73m1.82 0h0.36m0.36 0h0.36m0.73 0h0.36M143.18 271.62h0.36m2.18 0h0.36m0.73 0h0.36m5.45 0h0.36m7.64 0h0.36m1.82 0h0.36m9.09 0h0.36M151.55 274.87h0.36m7.64 0h0.36m0.36 0h0.36M141.36 278.11h0.36m1.82 0h0.36M139.18 281.36h0.36m1.82 0h0.36m0.36 0h0.36m10.55 0h0.36m6.91 0h0.36m1.09 0h0.36m2.18 0h0.36m2.91 0h0.36M150.09 287.85h0.73m5.45 0h0.36m15.27 0h0.36M156.27 291.09h0.36M144.27 294.34h0.36m6.55 0h0.36M144.27 297.58h0.36m4.36 0h0.73m1.82 0h0.36m1.45 0h0.73m0.36 0h0.36m1.09 0h0.36m0.73 0h0.36m0.36 0h0.36m4.73 0h0.36m2.18 0h0.36m1.09 0h0.36m2.55 0h0.36M145.36 300.82h0.36m2.91 0h0.36m15.64 0h0.36m7.64 0h0.36M156.64 304.07h0.36m6.91 0h0.36M138.82 307.31h0.36m1.45 0h0.36m0.36 0h0.36m0.73 0h0.73m1.45 0h0.36m4.36 0h0.36m2.18 0h0.73m4.73 0h0.36m0.36 0h0.73m0.73 0h0.36m0.73 0h0.36m1.45 0h0.36m0.73 0h0.36m1.09 0h0.36m0.73 0h0.36m0.73 0h0.73m0.73 0h0.36m1.09 0h0.36M140.64 310.56h0.36m7.27 0h0.36m3.27 0h0.36m4.00 0h0.36m2.18 0h0.36m4.73 0h0.73m2.55 0h0.36m3.64 0h0.36M137.00 313.81h0.36m6.55 0h0.36m3.64 0h0.36m0.36 0h0.36m6.55 0h0.36m2.55 0h0.36m0.36 0h0.36m0.36 0h0.36M147.18 323.54h0.36m6.18 0h0.36m8.73 0h0.36M148.27 326.79h0.36m3.27 0h0.36" stroke="#5fa335" stroke-width="3.0" fill="none"/><path d="M183.13 31.49h0.72m4.70 0h0.36m0.36 0h0.72m0.36 0h0.72m2.53 0h0.36m1.45 0h0.36m0.72 0h0.36m6.51 0h0.36m5.07 0h0.36m0.72 0h0.36m5.07 0h1.09m6.51 0h0.36m2.89 0h0.36m0.36 0h0.36m0.36 0h0.36M173.72 34.73h0.36m0.36 0h0.36m3.62 0h0.36m0.36 0h0.36m0.72 0h0.72m2.53 0h0.36m0.72 0h0.36m0.36 0h0.36m2.17 0h0.36m0.72 0h0.72m0.36 0h0.36m0.72 0h0.72m0.36 0h1.09m0.36 0h1.45m0.36 0h0.36m0.72 0h0.36m0.36 0h1.09m0.72 0h0.36m0.72 0h1.09m1.45 0h0.36m3.98 0h0.36m0.72 0h0.72m0.36 0h0.36m1.45 0h0.36m1.09 0h0.36m1.09 0h0.36m0.36 0h0.36m1.45 0h0.36m0.36 0h1.09m0.36 0h0.36m1.09 0h0.36m0.36 0h1.09m0.72 0h0.36m1.45 0h0.36m1.45 0h0.72m0.72 0h0.36M174.81 41.23h0.36m6.88 0h0.36m21.35 0h0.36m12.66 0h0.36m2.89 0h0.36m2.89 0h0.36M191.82 44.47h0.36M173.36 47.72h0.36m0.72 0h1.45m1.09 0h1.09m0.36 0h0.36m2.17 0h0.72m0.36 0h0.36m1.09 0h0.36m1.09 0h0.72m0.36 0h0.72m0.36 0h0.72m1.45 0h0.36m0.72 0h0.36m1.09 0h0.36m1.09 0h0.72m0.72 0h0.36m0.36 0h0.72m0.72 0h0.36m1.09 0h0.72m0.72 0h0.36m0.72 0h0.36m1.81 0h0.36m0.72 0h0.36m1.09 0h0.72m0.72 0h0.36m1.81 0h1.09m0.36 0h0.36m1.09 0h0.36m0.72 0h0.36m0.72 0h0.36m1.45 0h0.36m1.81 0h0.36m1.45 0h0.36m2.17 0h0.72m0.72 0h0.36m1.09 0h1.09m0.72 0h0.72M175.89 50.96h0.72m2.89 0h0.36m0.36 0h0.36m0.36 0h0.36m1.09 0h0.36m1.09 0h0.72m0.36 0h0.36m1.09 0h0.36m1.81 0h0.36m3.98 0h0.36m5.79 0h0.36m0.36 0h0.36m6.15 0h0.36m2.17 0h0.36m1.81 0h0.36m0.36 0h0.72m2.89 0h1.09m1.45 0h0.36m0.36 0h0.72m0.36 0h0.72m1.09 0h0.36m2.53 0h0.36m0.36 0h0.36M176.98 54.20h0.36m6.51 0h0.36m0.72 0h0.36m1.45 0h0.36m1.09 0h0.72m4.70 0h0.36m0.36 0h0.36m2.17 0h0.36m2.53 0h0.36m2.17 0h0.36m2.89 0h0.36m1.09 0h0.72m2.89 0h0.36m5.79 0h0.36m0.72 0h0.36m0.36 0h0.36m1.81 0h0.36m1.09 0h0.36m0.36 0h0.72m1.45 0h0.36M174.09 57.45h0.36m3.98 0h0.72m3.62 0h0.72m0.36 0h0.36m1.45 0h0.36m1.81 0h0.36m0.36 0h0.36m1.45 0h0.36m2.53 0h0.36m1.81 0h0.36m1.45 0h0.36m0.36 0h0.36m7.96 0h0.36m0.36 0h0.36m5.07 0h0.36m1.09 0h0.36m1.09 0h0.72m1.45 0h0.36m0.36 0h1.09m5.07 0h0.36m1.81 0h0.36m0.36 0h0.72M206.65 60.70h0.36M176.26 63.94h0.36m1.09 0h0.36m1.45 0h1.09m0.36 0h0.36m0.72 0h1.09m5.79 0h0.36m2.53 0h0.72m1.09 0h0.36m3.62 0h0.36m2.53 0h0.36m0.36 0h0.36m1.81 0h0.72m0.36 0h0.36m2.53 0h0.36m2.17 0h0.36m4.70 0h0.36m1.09 0h0.36m1.09 0h0.72m0.72 0h0.36m0.72 0h0.36m3.62 0h0.36m2.53 0h0.36M173.00 67.19h0.36m0.36 0h0.36m6.15 0h0.36m1.09 0h0.36m3.98 0h0.36m10.86 0h0.36m4.70 0h0.36m5.07 0h0.36m1.81 0h0.36m2.17 0h0.36m1.09 0h0.36m2.17 0h0.36m1.81 0h0.36m3.26 0h0.36m3.98 0h0.36M180.24 70.43h0.36m3.98 0h0.72m1.45 0h0.36m3.98 0h0.36m4.70 0h0.36m1.09 0h0.36m3.62 0h0.36m1.81 0h0.36m3.62 0h0.36m6.88 0h0.36m1.45 0h0.36m6.88 0h0.36M217.14 73.68h0.36M175.89 76.92h0.36m8.32 0h0.36m0.72 0h0.36m7.96 0h0.36m4.34 0h0.36m3.98 0h0.36m0.36 0h0.36m2.89 0h0.36m0.36 0h0.36m6.88 0h0.36m2.53 0h0.36m1.81 0h0.36m1.45 0h0.36m3.62 0h0.36M195.43 80.16h0.36m2.53 0h0.36M173.36 86.66h0.36m0.36 0h0.72m0.36 0h0.36m3.98 0h0.36m1.45 0h0.36m0.72 0h0.36m0.72 0h0.36m2.89 0h0.72m0.72 0h0.36m0.36 0h0.72m3.98 0h0.36m1.81 0h1.81m1.45 0h0.36m1.81 0h0.36m2.17 0h0.36m0.72 0h0.36m3.98 0h0.36m2.17 0h0.36m1.09 0h1.45m1.09 0h0.36m2.17 0h0.36m1.45 0h0.36m0.36 0h0.72m3.98 0h0.36m1.09 0h0.36M180.24 89.90h0.72m22.43 0h0.36m0.36 0h0.36M173.36 93.14h0.36m7.96 0h0.36m0.36 0h0.36m1.09 0h0.36m5.79 0h0.36m1.45 0h0.36m10.86 0h0.72m0.36 0h0.36m0.72 0h0.36m2.17 0h0.36m1.45 0h0.36m2.17 0h0.72m7.24 0h0.36m1.09 0h0.36m1.81 0h0.36m1.09 0h0.36m1.09 0h0.36M176.62 99.64h0.36m37.99 0h0.36M173.00 102.88h0.36m0.36 0h0.36m2.17 0h0.36m0.36 0h0.36m5.43 0h1.09m3.98 0h0.36m1.09 0h0.36m0.36 0h0.36m6.88 0h0.36m2.53 0h0.36m3.62 0h0.36m0.72 0h0.36m2.17 0h0.36m1.45 0h0.36m3.62 0h0.36m1.81 0h0.36m3.26 0h0.36m0.72 0h0.36m2.17 0h0.36m0.72 0h0.36m1.81 0h0.36M186.39 106.12h0.36m1.81 0h0.36m3.62 0h0.36m11.22 0h0.36m6.15 0h0.36m4.34 0h0.36m2.53 0h0.36m2.53 0h0.36m0.72 0h0.36M180.60 109.37h0.36m1.09 0h0.36m3.98 0h0.36m0.36 0h0.36m6.87 0h0.36m2.89 0h0.36m3.26 0h0.36m17.01 0h0.36M176.26 115.86h0.36m1.45 0h0.36m0.72 0h0.36m0.72 0h0.36m16.28 0h0.36m2.53 0h0.36m3.26 0h0.36m7.60 0h0.36m3.26 0h0.36m8.32 0h0.36m3.26 0h0.36M185.30 119.11h0.36m22.43 0h0.36m3.98 0h0.36M187.47 122.35h0.36m9.41 0h0.36m2.89 0h0.36m0.36 0h0.36m2.89 0h0.36m14.11 0h0.36M176.26 132.09h0.36m0.72 0h0.36m9.41 0h0.36m1.09 0h0.36m3.62 0h0.36m5.07 0h0.36m18.45 0h0.36m8.68 0h0.36M179.15 135.33h0.36m3.98 0h0.36m1.09 0h0.36m1.45 0h0.36m3.26 0h0.36m6.88 0h0.36m1.45 0h0.36m1.45 0h0.36m1.81 0h0.36m2.89 0h0.36m9.41 0h0.36m3.62 0h0.36M173.36 138.57h0.36m1.09 0h0.36m47.40 0h0.36m2.89 0h0.36M189.28 141.82h0.36m9.05 0h0.36M174.81 145.06h0.36m0.72 0h0.36m6.88 0h0.36m0.36 0h0.36m10.86 0h0.72m0.36 0h0.36m3.62 0h0.36m2.17 0h0.36m3.98 0h0.36m2.17 0h0.36m1.81 0h0.36m0.72 0h0.36m0.36 0h0.72m9.41 0h0.36m1.81 0h0.36m0.72 0h0.36M189.64 148.31h0.36m4.34 0h0.36m26.41 0h0.36M174.81 154.80h0.36m11.22 0h0.36m25.33 0h0.36m4.70 0h0.36M188.20 161.29h0.36m2.89 0h0.36M175.17 164.53h0.36m6.51 0h0.36m3.26 0h0.36m3.62 0h0.36m5.79 0h0.36m19.90 0h0.36M199.78 167.78h0.36m2.17 0h0.36m22.07 0h0.36M173.36 171.03h0.36m1.45 0h0.36m0.36 0h0.36m1.81 0h0.36m4.34 0h0.72m1.45 0h0.36m3.26 0h0.36m0.36 0h0.36m2.89 0h0.36m12.30 0h0.36m0.36 0h0.36m5.79 0h0.36m1.45 0h0.36m1.81 0h0.36m5.79 0h0.36M226.91 174.27h0.36M174.45 177.52h0.36m45.59 0h0.36M175.53 180.76h0.36m12.30 0h0.36m13.39 0h0.36m23.16 0h0.36M178.07 187.25h0.36m10.49 0h0.36m1.81 0h0.72m0.36 0h0.72m4.70 0h0.36m3.62 0h0.36m1.09 0h0.36m1.09 0h0.36m2.53 0h0.36m3.62 0h0.72m7.96 0h0.36m0.72 0h0.36m1.45 0h0.36m3.26 0h0.72M173.00 190.50h22.43m0.36 0h0.36m0.36 0h0.72m0.72 0h1.09m1.09 0h1.81m0.36 0h0.36m0.36 0h0.36m0.36 0h0.72m0.36 0h0.72m0.72 0h2.17m0.36 0h0.36m0.36 0h0.72m0.36 0h1.09m0.36 0h0.36m1.09 0h0.36m1.09 0h0.36m0.36 0h0.72m0.36 0h3.26m0.36 0h1.81m0.36 0h3.62m0.72 0h1.09M173.36 193.74h0.72m0.36 0h0.36m0.36 0h1.45m0.72 0h0.36m0.36 0h1.09m0.36 0h0.36m0.36 0h0.36m0.36 0h1.09m0.36 0h3.62m0.72 0h0.36m0.36 0h0.36m0.72 0h0.36m0.36 0h0.36m0.36 0h2.53m0.36 0h1.45m0.36 0h0.36m0.72 0h0.72m0.36 0h1.81m0.36 0h0.36m0.72 0h1.45m0.36 0h2.89m0.36 0h2.17m0.36 0h1.45m1.09 0h2.53m0.36 0h2.53m0.72 0h0.36m1.45 0h0.36m0.36 0h0.72m0.36 0h0.36m0.36 0h0.36m0.36 0h0.72m0.36 0h1.45m0.36 0h2.17m0.72 0h0.72M174.09 196.99h0.36m0.36 0h0.72m1.09 0h0.36m0.72 0h0.36m0.36 0h1.45m0.36 0h0.36m0.36 0h0.36m0.36 0h1.45m0.36 0h3.26m0.72 0h0.36m0.36 0h0.36m0.36 0h0.36m0.36 0h0.36m1.09 0h0.72m0.36 0h0.72m0.36 0h0.72m0.36 0h0.36m0.36 0h0.36m0.36 0h0.36m0.36 0h0.72m0.72 0h0.36m0.72 0h0.36m0.36 0h0.36m0.36 0h0.72m0.36 0h0.36m0.72 0h0.36m0.36 0h2.53m1.09 0h1.81m0.72 0h1.81m0.72 0h0.72m1.09 0h1.45m0.36 0h0.36m0.36 0h1.09m0.36 0h1.09m1.09 0h0.72m0.36 0h0.36m0.72 0h0.72m0.36 0h1.09m1.09 0h0.36m1.09 0h0.72M173.00 200.23h0.36m0.36 0h1.81m0.36 0h0.36m0.72 0h0.36m2.17 0h0.72m0.36 0h0.72m1.09 0h1.81m1.09 0h0.72m1.09 0h0.36m1.09 0h0.36m0.36 0h0.36m0.72 0h0.36m0.72 0h0.36m1.09 0h0.72m0.72 0h0.36m0.36 0h0.36m0.36 0h0.72m0.72 0h0.72m0.36 0h0.72m0.36 0h1.09m0.36 0h0.36m1.09 0h0.72m0.36 0h0.72m0.36 0h0.36m0.36 0h2.89m1.81 0h0.36m0.36 0h0.36m1.45 0h0.72m0.36 0h0.72m0.72 0h0.36m0.72 0h0.36m0.36 0h0.36m1.09 0h0.36m0.36 0h0.36m0.36 0h1.09m0.72 0h0.36m0.72 0h1.45m0.36 0h0.36m1.09 0h0.36m0.36 0h0.36m0.36 0h0.72M173.72 203.47h0.72m0.36 0h1.45m0.72 0h0.36m1.45 0h0.72m0.36 0h0.72m0.72 0h1.09m0.36 0h0.36m0.36 0h0.36m0.72 0h1.45m0.36 0h2.17m1.09 0h0.36m0.36 0h0.36m0.36 0h0.36m0.36 0h0.72m0.36 0h0.36m1.09 0h1.45m0.36 0h0.36m0.72 0h1.45m2.17 0h0.36m0.36 0h0.36m0.36 0h2.53m0.72 0h1.45m1.09 0h0.72m0.36 0h1.09m0.36 0h2.17m0.36 0h2.89m0.36 0h0.36m0.36 0h0.36m0.36 0h1.09m0.36 0h0.36m0.36 0h0.72m0.36 0h2.53m0.36 0h1.45m0.72 0h1.45M173.00 206.72h0.36m2.89 0h0.72m0.72 0h1.81m1.81 0h0.36m0.36 0h0.36m0.36 0h1.81m0.72 0h0.36m0.36 0h0.36m0.36 0h0.36m0.36 0h0.36m0.36 0h0.72m0.36 0h1.45m0.36 0h0.36m0.72 0h2.17m0.36 0h1.09m0.36 0h0.36m0.36 0h1.81m0.36 0h0.36m1.09 0h0.72m0.36 0h1.09m0.36 0h0.36m0.36 0h1.45m0.72 0h0.36m1.45 0h0.36m0.36 0h1.45m0.36 0h0.36m0.72 0h0.36m0.36 0h1.45m0.36 0h0.36m0.72 0h1.45m1.09 0h0.72m0.72 0h0.36m0.36 0h1.81m1.09 0h0.72m0.72 0h0.72m0.72 0h0.72m0.36 0h1.09M173.72 209.97h0.36m0.36 0h0.36m0.36 0h0.36m0.36 0h0.36m0.72 0h0.36m0.36 0h0.36m1.45 0h0.36m0.36 0h0.36m0.36 0h0.36m1.09 0h0.36m0.72 0h0.36m0.72 0h0.36m0.36 0h0.72m0.36 0h0.36m1.09 0h0.72m0.72 0h1.09m0.36 0h1.81m0.36 0h0.72m2.17 0h0.36m0.36 0h0.36m0.36 0h0.36m1.45 0h1.09m0.72 0h0.36m3.98 0h0.36m0.36 0h0.36m0.72 0h1.09m0.36 0h0.36m0.36 0h0.36m0.36 0h0.72m0.72 0h0.36m0.72 0h1.45m0.72 0h0.36m0.72 0h0.72m1.09 0h0.72m0.72 0h0.36m0.36 0h0.72m1.09 0h0.36m0.36 0h0.36m1.09 0h0.36m0.36 0h1.45m0.72 0h0.36m0.36 0h0.36M175.89 213.21h2.17m1.09 0h0.36m0.72 0h0.72m1.09 0h0.36m1.45 0h0.36m0.72 0h0.36m0.72 0h0.72m0.36 0h0.36m0.36 0h0.72m0.36 0h0.36m0.72 0h0.36m0.36 0h0.36m0.72 0h0.36m0.36 0h0.36m0.72 0h0.36m0.72 0h0.72m0.72 0h0.36m0.72 0h0.36m0.36 0h0.36m0.36 0h1.09m0.36 0h0.36m0.36 0h0.36m0.36 0h0.36m0.72 0h0.36m1.09 0h0.36m0.36 0h0.72m1.09 0h0.36m0.36 0h0.72m0.72 0h0.72m0.72 0h0.72m0.36 0h0.36m0.36 0h0.72m0.36 0h0.72m0.36 0h0.36m0.36 0h0.36m0.36 0h0.72m0.36 0h0.36m0.72 0h0.36m1.09 0h1.09m0.36 0h0.72m2.17 0h0.36m0.36 0h0.72m0.72 0h1.09m0.36 0h0.72M173.72 216.46h0.36m2.53 0h0.36m1.45 0h1.09m1.09 0h0.72m0.36 0h0.36m1.45 0h0.72m0.72 0h0.36m0.36 0h0.36m0.72 0h0.36m2.89 0h0.36m1.09 0h0.36m0.36 0h0.72m1.09 0h0.36m2.89 0h0.72m1.45 0h0.36m0.72 0h0.72m0.72 0h0.36m0.36 0h0.36m0.36 0h1.09m0.36 0h0.36m0.36 0h1.81m4.34 0h0.36m1.45 0h0.36m0.36 0h0.36m2.17 0h0.72m0.36 0h0.36m0.36 0h0.36m1.09 0h0.36m0.72 0h0.36m1.45 0h0.36m0.72 0h0.72m2.17 0h1.09M173.72 219.70h0.36m2.53 0h0.36m0.36 0h1.09m1.09 0h0.36m0.36 0h0.72m0.36 0h0.72m1.09 0h0.36m1.09 0h1.45m0.36 0h0.72m1.81 0h0.36m1.09 0h0.36m1.45 0h0.72m1.81 0h0.36m0.36 0h2.17m0.36 0h0.36m0.36 0h1.81m0.36 0h0.72m0.72 0h0.36m0.36 0h0.72m1.81 0h0.36m1.45 0h1.09m2.17 0h1.09m0.36 0h0.72m0.72 0h0.36m0.36 0h0.36m2.17 0h1.09m0.36 0h0.36m0.36 0h0.36m0.72 0h0.72m0.36 0h0.72m0.72 0h1.09m2.17 0h0.36m0.72 0h0.36M174.09 222.94h0.36m2.89 0h0.36m1.45 0h0.36m0.72 0h0.36m7.96 0h0.72m3.98 0h0.36m1.09 0h0.36m7.96 0h0.36m1.09 0h0.36m6.88 0h0.36m2.17 0h0.72m0.72 0h0.36m1.81 0h0.36m1.45 0h0.36m2.53 0h0.36m0.36 0h0.36m2.53 0h0.36M180.96 226.19h0.72m0.72 0h0.36m1.81 0h0.36m5.07 0h0.36m2.53 0h0.36m3.62 0h0.36m6.51 0h0.36m3.26 0h0.72m0.72 0h0.36m4.70 0h0.36m0.36 0h0.36m3.98 0h0.36m2.53 0h0.36m2.17 0h0.36m2.17 0h0.36M173.00 229.44h0.36m1.45 0h0.36m1.81 0h0.36m3.98 0h0.36m1.45 0h0.72m0.72 0h0.72m2.17 0h0.36m0.36 0h0.36m0.36 0h0.36m1.09 0h0.36m0.36 0h0.36m2.17 0h0.36m1.45 0h0.36m5.43 0h0.72m1.45 0h0.36m3.26 0h1.45m0.36 0h0.36m0.36 0h0.36m1.81 0h0.72m0.72 0h0.36m0.36 0h0.36m3.26 0h0.36m1.45 0h0.36m0.36 0h0.36m0.72 0h0.72m0.36 0h0.36m0.36 0h0.36m0.72 0h0.72M175.17 232.68h0.36m1.09 0h0.36m15.20 0h0.36m5.07 0h0.36m4.70 0h0.36m5.43 0h0.36m4.34 0h0.36m1.09 0h0.36m2.53 0h0.36m4.70 0h0.36m3.98 0h0.36M174.81 235.93h0.36m2.17 0h0.36m3.26 0h0.36m1.81 0h0.72m0.72 0h0.36m2.17 0h0.36m1.09 0h0.36m1.09 0h0.36m0.36 0h0.36m1.09 0h0.36m0.72 0h0.36m1.45 0h0.36m0.72 0h0.36m6.88 0h0.36m3.62 0h0.36m0.36 0h0.36m1.09 0h0.36m0.36 0h0.36m1.81 0h0.36m0.36 0h0.72m1.45 0h0.36m3.98 0h0.36m1.45 0h0.36m1.09 0h0.36m1.81 0h0.36M175.89 239.17h0.36m8.32 0h0.36m1.45 0h0.36m3.26 0h0.36m3.62 0h0.36m24.97 0h0.36m0.72 0h0.72M173.00 242.42h0.36m12.30 0h0.36m1.45 0h0.36m31.48 0h0.36m2.17 0h0.36M174.09 245.66h0.36m0.36 0h0.36m2.17 0h0.36m2.17 0h0.72m2.53 0h0.36m2.53 0h0.36m1.45 0h0.72m1.09 0h0.36m3.62 0h0.36m1.81 0h0.36m1.45 0h0.72m1.09 0h0.36m0.36 0h0.36m2.17 0h0.36m0.36 0h0.36m3.26 0h0.36m0.36 0h0.36m1.09 0h0.36m0.72 0h0.36m1.81 0h0.36m0.72 0h0.36m0.72 0h0.36m0.36 0h0.36m0.36 0h0.72m4.70 0h1.09m2.89 0h0.36m0.36 0h0.36M190.01 248.91h0.36m1.09 0h0.36m3.62 0h0.36m10.13 0h0.36m5.07 0h0.36m1.45 0h0.36m2.89 0h0.36m4.34 0h0.36m5.43 0h0.36M175.53 252.15h0.36m0.72 0h0.36m11.22 0h0.36m12.30 0h0.36m20.99 0h0.36M177.34 255.40h0.36m0.36 0h0.36m0.72 0h0.36m0.72 0h0.72m1.09 0h0.36m3.98 0h1.09m2.17 0h1.09m4.34 0h0.36m2.17 0h0.36m0.36 0h0.36m1.09 0h0.36m0.36 0h0.72m0.72 0h0.36m5.07 0h0.36m0.72 0h0.36m0.36 0h0.72m0.36 0h0.36m0.36 0h0.36m0.36 0h0.36m0.36 0h0.36m1.81 0h0.36m1.09 0h0.36m4.34 0h1.45m1.45 0h0.36m2.53 0h0.72m0.36 0h0.36M177.70 258.64h0.36m0.36 0h0.36m10.86 0h0.36m7.96 0h0.36m3.26 0h0.36m1.45 0h0.36m2.17 0h0.36m2.53 0h0.36m4.34 0h0.72m10.86 0h0.36M180.60 268.38h0.36m5.07 0h0.36m8.32 0h0.36m22.07 0h0.36m0.36 0h0.36m2.89 0h0.36m5.79 0h0.36M175.89 271.62h0.36m2.17 0h0.36m18.45 0h0.36m13.39 0h0.36M196.52 274.87h0.36M173.36 281.36h0.72m5.43 0h0.72m2.17 0h0.36m1.45 0h0.36m2.53 0h0.36m0.36 0h0.36m0.36 0h0.36m0.36 0h0.36m1.45 0h0.72m1.09 0h0.36m0.72 0h0.36m0.72 0h0.36m5.79 0h0.36m3.98 0h0.72m1.09 0h0.36m1.81 0h0.36m0.36 0h0.36m1.45 0h0.36m0.36 0h0.36m0.36 0h0.36m2.53 0h0.36m7.96 0h0.36m1.45 0h0.36M186.03 284.60h0.36M188.56 287.85h0.36m19.18 0h0.36m14.84 0h0.36M189.28 291.09h0.36m8.68 0h0.36m5.43 0h0.36m9.05 0h0.36m3.62 0h0.36M208.10 294.34h0.36m7.96 0h0.36m0.36 0h0.36m2.17 0h0.36M178.79 297.58h0.36m7.60 0h0.36m4.34 0h0.36m7.24 0h0.36m0.36 0h0.36m5.07 0h0.36m3.26 0h0.72m5.07 0h0.36m1.81 0h0.36m0.72 0h0.36m2.17 0h0.36M173.72 300.82h0.36m0.36 0h0.36m7.24 0h0.36m0.36 0h0.36m2.89 0h0.36m4.34 0h0.72m1.45 0h0.36m3.26 0h0.36m4.34 0h0.36m2.53 0h0.36m5.07 0h0.36m0.36 0h0.36m3.98 0h0.72m4.70 0h0.36m1.45 0h0.36m2.17 0h0.36M182.05 304.07h0.36m2.17 0h0.36m20.62 0h0.36m5.07 0h0.36m3.26 0h0.36m1.09 0h0.36m1.09 0h0.36m6.15 0h0.36M183.86 307.31h0.36m1.81 0h0.36m5.07 0h0.36m3.62 0h0.36m4.34 0h0.72m0.72 0h0.36m4.34 0h0.36m4.34 0h0.36m1.81 0h0.36m2.89 0h0.36m0.36 0h0.36M196.88 310.56h0.36m2.53 0h0.36m2.17 0h0.36m0.36 0h0.36m1.09 0h0.36m4.34 0h0.72m2.17 0h0.36m2.53 0h0.36M190.37 317.05h0.36m15.20 0h0.36m3.26 0h0.36m0.72 0h0.36m2.89 0h0.36M191.09 320.30h0.36m14.47 0h0.36m4.34 0h0.36M176.62 323.54h0.36m12.66 0h0.36m11.94 0h0.36m1.09 0h0.36m4.34 0h0.36m13.75 0h0.36m2.17 0h0.36M175.17 326.79h0.36m13.03 0h0.36m21.35 0h0.36M182.77 330.03h0.36m5.79 0h0.36m23.88 0h0.36" stroke="#45155e" stroke-width="3.0" fill="none"/><path d="M231.27 25.00h0.36m17.45 0h0.36m1.09 0h0.36m23.64 0h0.36M228.73 28.25h0.36m14.18 0h0.36m5.82 0h0.36m12.00 0h0.36m19.27 0h0.36m8.36 0h0.36M228.00 31.49h0.36m0.73 0h0.73m1.45 0h0.36m1.09 0h0.36m0.73 0h0.36m1.45 0h1.09m2.91 0h0.73m0.36 0h1.09m0.73 0h1.09m2.91 0h0.73m2.18 0h0.73m0.36 0h0.73m0.36 0h0.36m2.18 0h0.36m0.36 0h0.36m0.73 0h0.36m0.36 0h1.09m0.73 0h0.73m0.36 0h0.73m1.09 0h1.45m1.45 0h0.36m0.36 0h0.73m2.91 0h0.36m1.09 0h0.36m2.55 0h0.36m0.73 0h0.36m0.36 0h0.36m1.09 0h0.36m1.09 0h0.36m0.36 0h0.36m0.36 0h0.36m1.82 0h0.73m0.36 0h0.73m1.45 0h0.36m0.73 0h0.36m0.73 0h0.36m0.36 0h0.36m0.36 0h0.36m0.36 0h0.73m0.36 0h0.73m0.73 0h0.36M228.36 34.73h0.36m0.36 0h0.73m1.09 0h0.73m1.45 0h0.36m0.73 0h1.09m0.36 0h0.73m0.36 0h0.36m0.73 0h0.73m0.36 0h0.36m1.45 0h0.73m0.73 0h0.36m0.73 0h1.09m1.45 0h0.36m2.55 0h0.36m0.36 0h0.73m0.73 0h0.73m1.45 0h0.36m0.36 0h0.36m2.55 0h0.36m0.73 0h1.09m1.45 0h0.36m0.73 0h0.36m0.36 0h0.36m1.45 0h0.36m0.36 0h0.36m0.36 0h0.73m1.09 0h1.45m1.09 0h1.09m1.45 0h1.09m2.91 0h0.36m0.36 0h0.36m0.73 0h0.36m0.73 0h0.36m0.36 0h0.36m0.36 0h0.36m1.09 0h0.36m1.09 0h1.45m1.45 0h0.36m0.36 0h0.73m0.36 0h0.73m1.45 0h0.36m0.36 0h0.36M252.73 37.98h0.73m7.64 0h0.36m1.45 0h0.36m7.27 0h0.36m11.27 0h0.36m0.36 0h0.36m6.18 0h0.36M230.18 41.23h0.73m2.18 0h0.36m0.36 0h0.73m2.18 0h0.36m0.73 0h0.36m5.45 0h0.36m1.09 0h0.36m1.09 0h0.36m0.36 0h0.36m4.00 0h0.36m1.82 0h0.36m1.82 0h0.36m0.73 0h0.73m1.82 0h0.73m0.36 0h0.36m1.45 0h0.36m7.27 0h0.36m3.64 0h0.36m2.91 0h0.36m0.36 0h0.73m2.91 0h0.36m0.73 0h0.36m2.55 0h0.36m0.36 0h0.36m1.82 0h0.36M228.73 47.72h0.36m2.55 0h0.36m1.45 0h0.36m1.09 0h0.36m0.73 0h0.36m1.82 0h0.36m1.45 0h0.36m0.73 0h0.36m4.36 0h0.36m1.09 0h0.73m1.09 0h0.36m4.36 0h0.36m3.27 0h0.36m1.82 0h0.36m2.55 0h0.73m0.36 0h0.36m1.45 0h0.73m5.82 0h0.36m1.45 0h0.73m1.09 0h0.36m0.73 0h0.36m0.36 0h0.36m1.45 0h0.36m0.73 0h0.36m8.73 0h0.36m1.45 0h0.36M228.73 50.96h0.36m1.82 0h0.36m0.73 0h0.36m6.18 0h0.36m10.18 0h0.36m3.64 0h0.36m7.27 0h0.36m0.36 0h0.36m1.09 0h0.36m0.36 0h0.36m4.00 0h0.73m0.73 0h0.36M230.55 54.20h0.36m5.82 0h0.36m4.36 0h0.36m12.73 0h0.36m3.64 0h0.36m2.91 0h0.36m4.00 0h0.36m3.27 0h0.36m7.64 0h0.36m11.64 0h0.36m1.09 0h0.36M229.09 57.45h0.73m1.09 0h0.36m0.36 0h0.36m5.82 0h0.36m1.09 0h0.73m1.45 0h0.73m6.91 0h0.36m2.18 0h0.73m2.18 0h0.36m2.18 0h0.36m10.55 0h0.36m1.82 0h0.36m1.82 0h0.36m2.55 0h0.36m0.73 0h0.36m1.82 0h0.36m2.18 0h0.36m1.82 0h0.36m1.09 0h0.36M255.64 60.70h0.36M230.18 63.94h0.36m0.73 0h0.36m2.55 0h0.36m1.45 0h0.73m0.73 0h0.36m1.09 0h0.36m5.09 0h0.36m2.55 0h0.36m1.45 0h0.36m2.55 0h0.36m0.36 0h0.36m1.82 0h0.36m1.82 0h0.36m0.36 0h0.36m1.82 0h0.36m0.36 0h0.36m1.45 0h0.73m5.09 0h0.36m1.09 0h0.73m1.82 0h0.36m2.91 0h0.36m1.09 0h0.36m0.73 0h0.36m0.73 0h0.73m1.82 0h0.36m4.00 0h0.36m1.45 0h0.36m3.27 0h0.36M231.64 67.19h0.36m2.91 0h0.36m1.09 0h0.36m0.73 0h0.36m7.27 0h0.36m14.55 0h0.36m1.82 0h0.36m7.64 0h0.36M229.82 70.43h1.09m2.55 0h0.36m5.45 0h0.36m14.18 0h0.36m2.18 0h0.73m4.36 0h0.36m1.45 0h0.73m5.09 0h0.36m10.55 0h0.36m7.27 0h0.36M231.64 73.68h0.36m20.00 0h0.73m21.82 0h0.36M236.36 76.92h0.36m19.27 0h0.36m6.91 0h0.36m7.27 0h0.36m12.00 0h0.36M228.36 80.16h0.36m0.73 0h0.36m0.73 0h0.36m1.09 0h0.73m0.36 0h1.45m1.09 0h0.73m1.45 0h0.36m2.55 0h0.73m2.55 0h0.36m1.09 0h0.36m0.36 0h0.36m0.73 0h0.36m3.64 0h0.36m5.45 0h0.36m1.09 0h0.36m0.36 0h0.36m0.36 0h0.36m4.36 0h0.36m2.18 0h0.73m0.36 0h0.36m0.36 0h0.36m0.36 0h0.73m5.09 0h0.36m0.36 0h0.36m1.09 0h0.36m0.73 0h0.36m1.45 0h0.36m2.91 0h0.36m2.55 0h0.36m3.27 0h0.36m0.73 0h0.36M260.36 83.41h0.36m10.55 0h0.36m14.18 0h0.36M228.73 86.66h0.36m12.00 0h0.36m6.91 0h0.36m5.82 0h0.36m3.64 0h0.36m4.73 0h0.36m1.82 0h0.36m2.55 0h0.73m1.82 0h0.36m0.73 0h0.36m4.00 0h0.36m1.45 0h0.36m1.09 0h0.36m0.73 0h0.36m4.36 0h0.36m0.73 0h0.36M236.00 89.90h0.36m12.36 0h0.36M235.64 93.14h0.73m10.18 0h0.36m0.73 0h0.36m0.73 0h0.36m2.91 0h0.36m4.36 0h0.36m2.55 0h0.36m9.45 0h0.36m5.09 0h0.36M228.00 96.39h0.36m10.55 0h0.36m8.36 0h0.36m22.18 0h0.36m0.36 0h0.36m20.00 0h0.36M232.73 99.64h0.36m18.91 0h0.36m0.73 0h0.36m18.91 0h0.36m17.09 0h0.36M228.00 102.88h0.36m1.09 0h0.36m6.55 0h0.36m7.64 0h0.36m0.36 0h0.36m1.82 0h0.36m0.73 0h0.36m0.36 0h0.36m8.36 0h0.36m2.18 0h0.36m0.36 0h0.36m10.55 0h0.36m2.91 0h0.36m3.27 0h0.73m0.36 0h0.36m4.36 0h0.36m4.36 0h0.36M285.09 106.12h0.36m5.45 0h0.36M228.73 109.37h0.36m18.55 0h0.36m6.55 0h0.36m19.27 0h0.36m6.91 0h0.36m5.09 0h0.73M231.27 112.62h0.36m17.09 0h0.36m9.82 0h0.36m16.73 0h0.36m6.18 0h0.36m7.27 0h0.36M230.18 115.86h0.36m14.91 0h0.36m0.73 0h0.36m4.73 0h0.36m13.09 0h0.36m1.45 0h0.36m12.00 0h0.36M231.64 119.11h0.36m3.27 0h0.36m3.27 0h0.36m1.09 0h0.36m11.64 0h0.36m10.18 0h0.36m8.36 0h0.36m5.09 0h0.36m2.91 0h0.36m4.00 0h0.36m1.09 0h0.36M237.45 122.35h0.36m9.45 0h0.36m32.00 0h0.36m2.91 0h0.36M230.91 128.84h0.36m27.64 0h0.36m2.55 0h0.36m26.91 0h0.36M231.64 132.09h0.73m2.18 0h0.36m0.36 0h0.36m2.91 0h0.36m0.73 0h0.36m1.82 0h0.36m1.45 0h0.36m6.55 0h0.36m0.73 0h0.36m2.91 0h0.36m1.09 0h0.36m0.73 0h0.36m5.09 0h0.36m0.73 0h0.36m6.55 0h0.36m12.00 0h0.36M233.45 138.57h0.36m6.18 0h0.36m2.55 0h0.36m4.36 0h0.36m6.18 0h0.36m6.18 0h0.36m4.36 0h0.36m4.36 0h0.36m4.73 0h0.36m1.09 0h0.36m1.09 0h0.36M254.91 141.82h0.36M236.00 145.06h0.36m3.27 0h0.36m4.73 0h0.36m8.00 0h0.36m1.82 0h0.36m1.82 0h0.36m6.91 0h0.36m0.73 0h0.36m11.64 0h0.36m7.27 0h0.36M248.36 151.56h0.36m0.36 0h0.36m2.18 0h0.36m4.36 0h0.36m1.09 0h0.36m2.18 0h0.36m9.09 0h0.36m4.73 0h0.36m11.64 0h0.36m1.45 0h0.36m2.55 0h0.36M232.00 158.05h0.36m17.09 0h0.36m11.27 0h0.36m11.64 0h0.36M234.91 161.29h0.36m17.82 0h0.36m3.27 0h0.36m29.45 0h0.36M229.45 164.53h0.36m6.55 0h0.36m2.18 0h0.36m2.91 0h0.36m0.36 0h0.36m5.45 0h0.36m1.09 0h0.73m2.18 0h0.36m3.27 0h0.36m8.00 0h0.36m6.18 0h0.36m10.55 0h1.09m1.82 0h0.36M229.45 167.78h0.36m10.18 0h0.36m25.45 0h0.36m1.45 0h0.36M233.09 171.03h0.36m6.91 0h0.36m2.18 0h0.36m2.55 0h0.36m8.00 0h0.36m7.27 0h0.36m12.36 0h0.36m5.09 0h0.36m4.73 0h0.36M229.82 174.27h0.36m12.73 0h0.36m2.18 0h0.36m5.09 0h0.36m14.55 0h0.36m1.82 0h0.36m5.09 0h0.36m3.27 0h0.36m4.73 0h0.36m6.55 0h0.36m1.82 0h0.36M232.00 177.52h0.36m10.55 0h0.36m22.91 0h0.36m4.00 0h0.36m0.73 0h0.36m5.45 0h0.36m6.18 0h0.36m0.73 0h0.36M228.73 187.25h0.36m0.36 0h0.73m1.45 0h0.36m1.09 0h0.36m0.36 0h0.36m1.45 0h0.36m0.73 0h0.73m2.55 0h0.36m4.00 0h0.36m1.09 0h0.36m0.36 0h0.73m1.09 0h0.36m2.91 0h0.36m0.73 0h0.36m0.73 0h0.36m0.73 0h0.73m1.09 0h0.36m3.27 0h0.36m0.73 0h0.36m6.91 0h0.36m4.00 0h0.36m2.91 0h0.36m0.36 0h0.36m3.64 0h0.36m4.36 0h0.73m0.73 0h0.36m1.82 0h0.36m0.36 0h0.36m0.73 0h0.36M238.91 190.50h0.36m49.82 0h0.36M230.55 193.74h0.36m0.36 0h0.73m1.82 0h0.36m0.73 0h0.36m4.00 0h0.36m2.55 0h0.36m0.73 0h0.73m6.91 0h0.73m2.55 0h0.36m0.36 0h0.36m2.18 0h0.73m3.27 0h0.36m0.36 0h0.36m5.09 0h0.36m0.36 0h0.36m7.27 0h0.36m2.18 0h0.73m0.36 0h0.36m1.82 0h0.36m2.55 0h0.36m0.73 0h0.36m0.36 0h0.36m3.64 0h0.36M230.55 196.99h0.36m7.64 0h0.36m26.55 0h0.36m15.27 0h0.36m3.27 0h0.36m4.36 0h0.36M229.09 203.47h0.36m1.45 0h0.36m2.91 0h0.36m2.18 0h0.36m18.55 0h0.36m1.09 0h0.36m1.09 0h0.36m0.36 0h0.36m5.45 0h0.36m12.00 0h0.36m2.18 0h0.36M232.00 206.72h0.36m30.91 0h0.36m16.73 0h0.36M232.73 209.97h0.36m5.45 0h0.36m1.45 0h0.36m1.09 0h0.36m7.27 0h0.36m13.82 0h0.36m1.45 0h0.36m14.18 0h0.36m3.64 0h0.36M238.91 213.21h0.36m0.36 0h0.36m5.82 0h0.36m3.64 0h0.36m2.18 0h0.36m4.00 0h0.36m4.00 0h0.36m1.45 0h0.73m0.73 0h0.36m0.73 0h0.36m5.82 0h0.36m2.18 0h0.36m5.45 0h0.36m1.45 0h0.36m5.45 0h0.36M278.91 216.46h0.36M231.64 219.70h0.36m6.91 0h0.36m0.73 0h0.36m13.45 0h0.36m1.82 0h0.36m2.91 0h0.36m11.27 0h0.36m1.82 0h0.36m17.09 0h0.73M229.09 229.44h0.36m9.45 0h0.36m1.82 0h0.36m0.73 0h0.36m2.91 0h0.36m1.09 0h0.36m3.64 0h0.36m0.36 0h0.36m1.45 0h0.36m4.73 0h0.73m2.18 0h0.36m2.91 0h0.36m9.82 0h0.36m1.09 0h0.36M243.64 232.68h0.36M228.00 235.93h0.36m1.82 0h0.36m0.36 0h0.36m1.09 0h0.36m3.27 0h0.36m3.27 0h0.36m4.36 0h0.36m3.64 0h0.36m4.73 0h0.36m1.09 0h0.36m1.82 0h0.36m1.09 0h0.36m2.18 0h0.36m0.73 0h0.36m9.09 0h0.36m0.73 0h0.36m5.09 0h0.36m1.82 0h0.36m1.82 0h0.36m0.73 0h0.36m0.36 0h0.73m1.09 0h0.36M239.64 239.17h0.36m20.36 0h0.36m13.09 0h0.36m4.73 0h0.36M228.00 242.42h1.09m1.09 0h0.73m0.36 0h1.09m1.45 0h0.36m0.36 0h0.36m0.73 0h2.55m0.36 0h1.45m1.45 0h0.36m0.73 0h2.55m0.36 0h0.73m0.36 0h0.73m0.73 0h0.73m0.36 0h0.36m1.09 0h0.36m1.45 0h1.09m0.36 0h2.55m0.36 0h1.45m0.36 0h0.36m1.09 0h1.09m0.36 0h0.36m1.09 0h1.09m1.09 0h3.27m0.36 0h0.73m0.36 0h1.82m0.36 0h1.09m0.73 0h0.36m0.36 0h0.36m0.36 0h0.36m0.73 0h0.36m0.36 0h0.73m0.36 0h0.36m0.36 0h0.36m0.36 0h1.45m0.36 0h0.36m0.36 0h0.73m0.36 0h1.82m0.36 0h0.73m1.09 0h4.73M228.36 245.66h1.09m0.36 0h4.00m0.36 0h0.36m0.73 0h4.36m0.36 0h4.36m0.36 0h1.82m0.36 0h1.82m0.36 0h1.82m0.36 0h3.27m0.36 0h3.64m0.36 0h1.09m0.36 0h1.09m0.73 0h9.45m0.36 0h6.55m0.36 0h0.73m0.36 0h4.73m0.36 0h0.36m0.36 0h1.09m0.36 0h1.09m0.73 0h0.36m0.36 0h0.36m0.36 0h1.45M228.36 248.91h0.36m0.73 0h0.36m0.73 0h1.82m0.36 0h1.45m0.73 0h0.73m0.36 0h0.73m1.09 0h1.09m0.36 0h1.45m0.36 0h0.36m0.36 0h1.45m0.36 0h0.36m0.36 0h1.09m0.73 0h0.36m0.73 0h0.36m0.73 0h0.73m0.36 0h1.09m0.36 0h1.45m0.36 0h1.09m0.36 0h0.73m0.36 0h3.64m0.36 0h2.55m1.45 0h0.36m0.36 0h0.73m0.36 0h0.73m0.73 0h0.73m0.36 0h1.82m0.36 0h2.18m0.73 0h0.73m0.36 0h1.45m0.36 0h2.18m0.73 0h0.36m0.36 0h1.45m0.36 0h0.73m0.36 0h1.45m0.36 0h2.55m1.09 0h1.09m1.09 0h1.09m0.36 0h0.36M228.36 252.15h0.36m0.36 0h1.45m1.09 0h0.73m0.36 0h0.36m0.36 0h0.73m0.73 0h0.36m0.73 0h2.18m1.09 0h0.36m0.36 0h0.36m0.36 0h0.73m0.36 0h0.73m0.36 0h1.09m0.36 0h5.09m0.36 0h0.73m0.36 0h0.73m2.18 0h0.36m0.36 0h0.36m1.45 0h0.73m0.36 0h0.73m0.73 0h0.73m0.73 0h4.00m1.45 0h1.09m0.36 0h2.55m0.73 0h0.73m0.36 0h0.36m0.36 0h1.82m0.73 0h0.36m0.36 0h0.36m0.36 0h0.36m1.09 0h0.36m0.36 0h0.36m0.36 0h1.09m0.36 0h0.73m0.73 0h0.73m0.73 0h1.45m0.36 0h1.82m0.36 0h0.36m1.82 0h0.73M228.00 255.40h1.82m0.36 0h2.18m0.36 0h0.36m1.09 0h0.36m0.36 0h1.82m0.73 0h1.82m0.73 0h1.09m0.36 0h0.36m0.36 0h0.36m0.36 0h0.73m0.73 0h1.45m1.09 0h4.36m0.73 0h1.09m1.09 0h1.45m0.36 0h0.36m0.36 0h2.18m0.36 0h0.73m0.36 0h0.73m0.36 0h0.36m0.36 0h0.73m0.36 0h1.09m0.36 0h0.36m0.36 0h1.09m0.36 0h2.55m0.36 0h0.36m0.73 0h1.82m0.73 0h0.36m0.36 0h0.36m0.36 0h0.73m0.36 0h1.09m0.36 0h0.36m1.09 0h0.73m0.36 0h0.73m0.36 0h1.09m0.73 0h2.55m0.36 0h0.36m0.36 0h0.36m0.36 0h0.36m0.36 0h1.82m0.36 0h1.82M228.00 258.64h0.36m0.73 0h0.36m2.18 0h0.36m0.73 0h0.36m0.73 0h0.36m1.45 0h0.36m0.73 0h0.36m0.36 0h0.36m0.36 0h0.36m0.36 0h0.73m0.73 0h0.36m0.36 0h0.73m0.73 0h0.36m0.36 0h0.36m0.73 0h0.73m2.18 0h0.73m1.45 0h0.73m3.27 0h0.36m1.45 0h1.09m0.36 0h0.73m1.09 0h1.09m1.82 0h0.36m4.00 0h0.36m0.36 0h0.36m0.36 0h0.36m2.18 0h0.36m0.36 0h0.36m0.73 0h0.36m1.45 0h0.36m0.73 0h0.36m1.09 0h0.36m2.55 0h1.09m0.36 0h1.09m0.36 0h1.09m0.73 0h0.73m0.36 0h0.73m1.09 0h0.73m0.73 0h0.73m0.73 0h1.45m0.73 0h0.36M228.36 261.88h0.73m4.73 0h0.36m0.73 0h0.36m1.09 0h0.36m6.18 0h0.36m2.18 0h0.73m3.64 0h0.73m4.36 0h0.36m0.36 0h0.73m0.36 0h0.36m0.73 0h0.73m2.18 0h0.73m2.91 0h0.36m1.45 0h0.36m1.82 0h0.36m0.73 0h0.36m2.55 0h0.36m2.91 0h0.36m1.82 0h0.36m6.91 0h0.73m1.09 0h0.36m2.18 0h0.36M235.64 265.13h0.73m2.91 0h0.36m1.82 0h0.36m5.45 0h0.36m0.73 0h0.36m0.36 0h0.36m7.27 0h0.36m2.55 0h0.36m4.73 0h0.36m9.45 0h0.36m4.73 0h0.36m2.18 0h0.36M230.18 268.38h0.36m1.82 0h0.36m2.18 0h0.36m1.45 0h0.36m3.27 0h0.36m0.36 0h0.36m0.36 0h0.36m2.18 0h0.36m1.09 0h0.73m4.00 0h0.36m0.36 0h1.45m0.36 0h1.09m2.55 0h0.36m0.36 0h0.36m0.36 0h0.36m2.91 0h0.36m0.36 0h0.36m0.36 0h0.36m1.09 0h0.36m1.82 0h0.36m2.91 0h0.36m2.91 0h0.36m0.73 0h0.36m3.64 0h0.36m2.55 0h0.36m0.73 0h0.36m1.45 0h0.36m1.45 0h0.36m1.82 0h0.36M228.00 271.62h0.36m1.09 0h0.36m0.36 0h0.36m1.45 0h0.36m9.82 0h0.36m1.45 0h0.73m3.27 0h0.36m0.73 0h0.36m5.82 0h0.36m3.64 0h0.36m2.91 0h0.73m0.73 0h0.36m5.82 0h0.36m0.36 0h0.36m0.73 0h0.36m1.82 0h0.36m0.36 0h0.36m0.73 0h0.36m6.18 0h0.36m0.36 0h0.36m1.82 0h0.36m1.45 0h0.36M233.82 274.87h0.36m0.73 0h0.36m4.73 0h0.36m4.36 0h0.36m4.36 0h0.36m5.82 0h0.36m2.18 0h0.36m18.91 0h0.36m1.09 0h0.36m2.55 0h0.36m1.82 0h0.36m6.91 0h0.36M234.18 278.11h0.36m14.91 0h0.36m6.55 0h0.36m5.45 0h0.36m4.00 0h0.36m16.36 0h0.36m4.73 0h0.36M229.82 281.36h1.09m3.27 0h0.36m4.36 0h0.36m0.36 0h0.36m0.36 0h0.36m1.45 0h0.36m0.36 0h0.36m1.82 0h0.36m4.73 0h0.36m0.36 0h0.73m0.36 0h0.36m1.82 0h0.73m1.82 0h0.36m1.45 0h0.36m0.36 0h0.73m4.36 0h0.36m2.91 0h1.82m0.73 0h0.36m0.73 0h0.36m2.55 0h0.73m0.73 0h0.36m2.55 0h0.36m0.36 0h0.36m1.09 0h0.36m1.45 0h0.73m1.82 0h0.36m3.27 0h0.36M231.27 284.60h0.36m0.36 0h0.36m1.45 0h0.36m14.91 0h0.36m2.18 0h0.73m3.27 0h0.36m5.09 0h0.36m2.91 0h0.36m10.91 0h0.36m2.55 0h0.36m7.64 0h0.36m2.18 0h0.36M228.73 287.85h0.36m0.73 0h0.36m1.09 0h0.36m4.36 0h0.36m2.91 0h0.36m2.18 0h0.36m2.91 0h0.73m12.00 0h0.36m0.73 0h0.36m1.09 0h0.36m4.73 0h0.36m4.00 0h0.36m18.18 0h0.36m0.73 0h0.36m0.73 0h0.36M256.36 291.09h0.36m5.45 0h0.36m6.91 0h0.36m15.27 0h0.36m3.64 0h0.36M234.91 294.34h0.36m0.73 0h0.36m3.64 0h0.36m9.45 0h0.36m4.00 0h0.36m5.82 0h0.36m9.45 0h0.36m1.45 0h0.36m12.00 0h0.36M229.45 297.58h0.36m0.73 0h0.36m4.36 0h0.73m2.55 0h0.36m2.91 0h0.36m0.73 0h0.36m1.82 0h0.36m5.09 0h0.36m4.36 0h0.36m2.55 0h0.36m4.00 0h0.36m1.45 0h0.36m9.45 0h0.36m5.82 0h0.36m3.64 0h0.36m1.45 0h0.36m1.09 0h0.36M228.36 300.82h0.36m5.45 0h0.36m8.36 0h0.36m5.82 0h0.36m10.55 0h0.36m14.91 0h0.73m4.73 0h0.73m4.00 0h0.36m1.82 0h0.36m0.73 0h0.36M232.36 304.07h0.36m3.64 0h0.36m4.73 0h0.36m9.45 0h0.36M228.00 307.31h0.36m0.73 0h0.36m0.73 0h0.36m2.91 0h0.36m1.82 0h0.73m4.73 0h0.36m0.36 0h0.36m1.82 0h0.73m1.09 0h0.36m2.91 0h0.36m1.82 0h0.36m1.45 0h0.36m3.27 0h0.36m2.18 0h1.09m0.73 0h0.36m0.36 0h0.36m0.36 0h0.36m1.82 0h0.36m2.18 0h0.36m3.27 0h0.73m0.73 0h0.73m0.73 0h0.36m1.82 0h0.36m0.73 0h1.09m1.09 0h0.36m2.18 0h0.36m3.27 0h0.36m0.73 0h0.36m1.45 0h0.36m1.09 0h0.36m0.73 0h0.36M228.36 310.56h0.36m4.00 0h0.73m15.64 0h0.36m1.82 0h0.36m5.82 0h0.36m18.55 0h0.36m1.82 0h0.36m9.09 0h0.36M231.27 313.81h0.36m1.09 0h0.36m1.82 0h0.36m3.64 0h0.36m4.73 0h0.36m3.64 0h0.36m11.27 0h0.36m0.73 0h0.36m0.36 0h0.36m1.45 0h0.36m2.91 0h0.73m0.73 0h0.36m4.36 0h0.36m0.36 0h0.36m2.91 0h0.36m5.09 0h0.36m2.18 0h0.36m2.18 0h0.36m0.36 0h0.36m0.36 0h0.36M251.64 317.05h0.36M252.00 320.30h0.36M229.09 323.54h0.36m1.45 0h0.36m19.27 0h0.36m1.09 0h0.36m7.27 0h0.36m0.36 0h0.36m20.00 0h0.36M234.55 326.79h0.36m3.27 0h0.36m16.36 0h0.36m6.18 0h0.36m2.55 0h0.36m13.09 0h0.36m1.45 0h0.36m7.64 0h0.36M230.91 330.03h0.36m30.18 0h0.36m2.18 0h0.36m0.73 0h0.36m1.09 0h0.36" stroke="#d68210" stroke-width="3.0" fill="none"/><path d="M318.58 25.00h0.36m5.83 0h0.36m12.74 0h0.36m4.00 0h0.36M292.73 31.49h0.36m2.55 0h0.36m2.55 0h0.36m0.36 0h0.36m1.09 0h0.36m0.73 0h0.73m0.36 0h0.36m1.09 0h0.73m1.46 0h0.36m1.82 0h1.09m1.09 0h1.09m3.64 0h0.36m0.36 0h0.73m1.09 0h0.36m0.36 0h0.73m2.55 0h0.36m1.46 0h0.36m0.73 0h0.36m0.73 0h0.36m4.00 0h0.36m2.18 0h0.36m1.46 0h0.73m1.09 0h0.73m0.73 0h0.73m1.46 0h0.73M294.55 34.73h0.36m14.20 0h0.36m12.01 0h0.36m2.18 0h0.36M334.23 44.47h0.36m7.65 0h0.36M292.36 47.72h0.36m0.73 0h0.36m1.46 0h0.36m0.36 0h0.36m1.09 0h0.36m1.46 0h0.36m0.73 0h1.09m0.73 0h0.36m2.18 0h0.36m0.73 0h0.36m1.46 0h0.36m3.28 0h0.36m1.09 0h0.36m2.18 0h0.36m5.10 0h0.73m0.36 0h0.36m3.64 0h0.36m3.64 0h0.36m0.36 0h0.36m1.46 0h0.36m1.82 0h0.73m3.64 0h0.73M304.38 50.96h0.36m13.84 0h0.36m2.55 0h0.36m14.93 0h0.36m3.64 0h0.36M292.73 54.20h0.36m1.09 0h0.36m2.18 0h0.36m11.65 0h0.36m14.56 0h0.36m4.73 0h0.36m9.10 0h0.36m3.28 0h0.36M295.28 57.45h0.36m0.73 0h0.36m3.28 0h0.36m1.46 0h0.36m0.36 0h0.36m3.28 0h0.36m0.36 0h0.36m0.73 0h0.36m2.18 0h0.36m4.73 0h0.36m0.36 0h0.36m1.82 0h0.36m1.09 0h0.36m2.55 0h0.36m2.55 0h0.36m1.46 0h0.36m0.36 0h0.36m3.64 0h0.36m0.73 0h1.09m0.73 0h0.36m0.73 0h0.36m1.09 0h1.09m0.36 0h0.36m3.28 0h0.73M294.91 60.70h0.73m1.09 0h0.36m7.65 0h0.36m4.37 0h0.73m1.46 0h0.36m1.46 0h0.36m0.36 0h0.36m8.01 0h0.36m4.73 0h0.36m10.92 0h0.36M294.91 63.94h0.36m0.73 0h0.73m7.65 0h0.36m5.10 0h0.36m0.73 0h0.36m4.37 0h0.36m0.73 0h0.36m0.73 0h0.36m6.92 0h0.36m1.46 0h0.36m1.46 0h0.36m3.64 0h0.36m6.92 0h0.36M294.55 67.19h0.36m1.09 0h0.73m3.28 0h0.36m1.82 0h0.36m3.64 0h0.36m3.28 0h0.36m0.36 0h0.73m0.73 0h0.36m0.36 0h0.36m4.00 0h0.36m8.01 0h0.36m0.36 0h0.36m3.28 0h0.36m0.36 0h0.36m0.73 0h0.36m3.64 0h0.36m0.36 0h0.36m0.36 0h0.36m1.46 0h0.36m1.09 0h1.09M293.46 70.43h0.36m18.57 0h0.36m30.22 0h0.36M293.09 73.68h0.36m4.00 0h0.36m4.73 0h0.36m10.56 0h0.36m4.73 0h0.73m2.55 0h0.36m1.46 0h0.73m0.73 0h0.36m5.83 0h0.73m0.73 0h0.73m0.36 0h0.36m2.55 0h0.36m1.09 0h1.09m1.82 0h0.36M293.82 86.66h0.36m0.36 0h0.36m0.73 0h0.36m1.82 0h0.36m0.36 0h0.36m1.09 0h0.73m0.73 0h0.36m0.36 0h0.36m0.36 0h0.36m0.73 0h0.36m1.46 0h0.36m1.09 0h0.73m3.64 0h1.09m1.09 0h0.36m0.36 0h0.73m2.18 0h0.73m0.73 0h0.73m1.46 0h0.36m3.28 0h0.73m1.09 0h0.36m4.37 0h0.73m1.82 0h0.36m0.73 0h0.36m0.73 0h0.36m0.36 0h0.36m1.46 0h0.73m0.36 0h0.36m1.09 0h0.36m1.82 0h0.36M328.04 89.90h0.36M298.55 93.14h0.36m1.82 0h0.36m12.38 0h0.36m0.36 0h0.36m0.73 0h0.36m0.73 0h0.36m3.64 0h0.36m10.19 0h0.36m4.37 0h0.36m0.36 0h0.36m0.73 0h0.36m1.09 0h0.36m2.55 0h0.36M305.47 99.64h0.36m3.64 0h0.36m2.91 0h0.36M294.55 102.88h0.36m4.73 0h0.36m0.73 0h0.36m0.73 0h0.73m2.55 0h0.36m5.46 0h0.36m5.83 0h0.36m4.37 0h0.36m2.91 0h0.36m0.36 0h0.36m1.09 0h0.36m3.28 0h0.36m1.09 0h0.36m4.00 0h0.36m0.36 0h0.36m1.09 0h0.36m1.46 0h0.36M309.84 106.12h0.36m28.76 0h0.36m1.82 0h0.36M293.46 115.86h0.36m2.18 0h0.36m1.46 0h0.73m3.28 0h0.36m3.28 0h0.36m0.73 0h0.36m0.73 0h0.36m1.46 0h0.36m0.73 0h0.36m1.82 0h0.36m2.55 0h0.36m0.36 0h0.36m1.09 0h0.36m8.74 0h0.36m2.18 0h0.36m0.36 0h0.73m4.37 0h0.36m3.28 0h0.36m2.55 0h0.36m0.73 0h0.36M301.10 119.11h1.09m3.28 0h0.36m0.73 0h0.36m0.36 0h0.36m0.36 0h0.36m0.36 0h0.36m2.18 0h0.36m0.73 0h0.73m2.55 0h0.36m6.19 0h0.36m1.46 0h0.36m2.91 0h0.36m0.73 0h0.36m1.09 0h0.36m0.73 0h0.36m0.73 0h0.36m0.36 0h0.36m0.73 0h0.73m6.19 0h0.36m1.46 0h0.36m0.36 0h0.36M292.36 122.35h0.36m1.46 0h0.36M304.01 132.09h0.36m4.37 0h0.36m15.66 0h0.36m12.74 0h0.36M296.00 135.33h0.36m4.37 0h0.36m2.18 0h0.36m1.46 0h0.36m0.73 0h0.36m0.73 0h0.36m2.18 0h0.36m4.00 0h0.36m0.73 0h0.36m2.18 0h0.36m8.01 0h0.36m5.10 0h0.73m1.46 0h0.36m1.09 0h0.36m6.92 0h0.36m0.36 0h0.36M292.00 138.57h0.36m5.46 0h0.36m0.36 0h0.36m0.36 0h0.36m4.37 0h0.36m7.28 0h0.36m13.84 0h0.36m0.36 0h0.36m1.82 0h0.36m6.19 0h0.36m0.36 0h0.36m4.37 0h0.36M296.00 141.82h0.36m20.75 0h0.36m0.36 0h0.73m18.20 0h0.36M317.12 145.06h0.36M320.76 148.31h0.36m6.92 0h0.36m9.47 0h0.36M339.33 151.56h0.36m3.64 0h0.36M295.64 158.05h0.36m0.73 0h0.36M293.46 161.29h0.73m1.09 0h0.36m8.01 0h0.36m18.57 0h0.36m5.10 0h0.36m6.19 0h0.36m3.28 0h0.36M293.09 164.53h0.36m1.82 0h0.36m1.09 0h0.36m5.10 0h0.36m1.82 0h0.36m0.36 0h0.36m0.73 0h0.73m5.10 0h0.36m8.74 0h0.73m5.10 0h0.36m2.18 0h0.36m0.73 0h0.36m0.73 0h0.73m0.73 0h0.36m5.46 0h0.36m0.36 0h0.36M302.56 167.78h0.36m4.73 0h0.36M294.91 171.03h0.36m21.12 0h0.36m16.75 0h0.36M294.91 184.00h0.36m5.10 0h0.36M292.36 187.25h0.36m0.73 0h0.36m3.64 0h0.36m0.73 0h0.36m1.82 0h0.73m0.36 0h0.36m0.73 0h0.36m0.73 0h0.36m0.36 0h0.36m2.18 0h0.36m2.18 0h0.36m1.46 0h0.36m0.36 0h1.09m1.46 0h0.36m3.64 0h0.73m0.36 0h0.36m1.82 0h0.36m2.55 0h0.36m1.09 0h0.73m0.73 0h0.73m3.64 0h0.36m1.46 0h0.36m6.19 0h0.36M293.82 190.50h0.36m4.37 0h0.36m29.85 0h0.36m2.18 0h0.36M292.73 193.74h0.36m0.36 0h0.73m1.09 0h0.36m4.37 0h0.36m1.82 0h0.36m1.46 0h0.73m2.55 0h0.36m1.09 0h0.36m1.82 0h0.36m2.18 0h0.36m5.10 0h0.36m2.18 0h0.36m1.82 0h0.36m1.46 0h0.36m1.46 0h0.36m7.28 0h0.36m1.82 0h0.36m1.46 0h0.36m2.18 0h0.36M319.31 196.99h0.36m1.09 0h0.36m2.18 0h0.36m6.92 0h0.36m11.65 0h0.36M295.28 200.23h0.36m6.55 0h0.36m25.49 0h0.36m10.92 0h0.36M292.00 203.47h0.36m0.36 0h1.09m0.73 0h0.73m1.82 0h0.36m0.36 0h0.73m0.36 0h0.36m0.36 0h0.36m0.36 0h0.36m1.09 0h0.36m0.36 0h0.36m0.73 0h0.36m0.36 0h0.36m0.36 0h0.36m2.91 0h0.36m2.55 0h0.36m0.73 0h0.36m1.09 0h0.36m0.36 0h0.36m0.36 0h0.36m0.36 0h0.36m0.73 0h0.36m1.09 0h0.73m0.73 0h0.36m2.18 0h0.36m1.09 0h0.73m0.73 0h0.73m0.36 0h0.36m3.64 0h0.36m0.73 0h0.36m2.55 0h0.36m0.73 0h0.36m1.09 0h0.73m0.73 0h0.36m0.73 0h0.36m0.36 0h0.36M292.00 206.72h0.36m1.46 0h0.36m10.92 0h0.36m1.46 0h0.36m6.55 0h0.36m2.18 0h0.36m3.28 0h0.36m4.73 0h0.36m2.18 0h0.36m4.00 0h0.36m4.37 0h0.36m2.55 0h0.36m0.73 0h0.36m0.36 0h0.73M301.10 209.97h0.36m3.28 0h0.36m3.64 0h0.36m3.28 0h0.36m5.83 0h0.36m16.38 0h0.36m7.28 0h0.36M293.09 213.21h0.73m1.46 0h1.09m0.73 0h0.73m3.28 0h0.36m0.36 0h0.36m1.46 0h0.36m4.37 0h0.36m1.46 0h0.73m5.46 0h0.36m6.55 0h0.36m5.46 0h0.36m0.36 0h0.36m5.46 0h0.36m1.82 0h0.36m5.10 0h0.36M300.74 216.46h0.36m2.18 0h0.36m3.28 0h0.36m1.09 0h0.36m1.09 0h0.36m2.55 0h0.36m1.09 0h0.73m17.48 0h0.36m3.28 0h0.36m1.46 0h0.36m1.82 0h0.36M294.55 219.70h0.73m3.28 0h0.36m5.46 0h0.73m1.09 0h0.36m1.82 0h0.36m0.73 0h0.36m2.91 0h1.82m1.46 0h0.73m0.73 0h0.73m1.82 0h0.36m0.36 0h0.36m1.46 0h0.73m2.55 0h0.36m0.73 0h0.36m1.82 0h0.73m0.73 0h0.36m2.18 0h0.36m2.18 0h0.36m0.73 0h0.36m0.73 0h0.36m0.73 0h0.36m1.46 0h0.36m0.73 0h0.36m1.09 0h0.36M292.36 226.19h0.36m0.73 0h0.36m0.36 0h0.36m1.09 0h0.36m0.36 0h0.36m1.82 0h0.36m7.65 0h0.36m1.46 0h0.36m2.55 0h0.36m2.18 0h0.36m11.29 0h0.36m15.29 0h0.36M299.65 229.44h0.36m4.73 0h0.36m1.09 0h0.36m19.30 0h0.36m1.82 0h0.36m1.46 0h0.36m11.29 0h0.36M315.67 232.68h0.36m1.82 0h0.36m0.36 0h0.36m8.01 0h0.36m8.37 0h0.36M292.36 235.93h0.36m9.10 0h0.36m0.36 0h0.36m1.46 0h0.73m1.82 0h0.36m6.92 0h0.36m1.82 0h0.36m2.91 0h0.36m2.91 0h0.36m3.64 0h0.36m0.36 0h0.36m1.09 0h0.36m5.10 0h0.36m1.09 0h0.36m1.09 0h0.36m0.36 0h0.36m2.18 0h0.36M292.00 242.42h0.36m1.46 0h0.36m4.73 0h0.36m3.64 0h0.36m5.83 0h0.36m3.28 0h0.36m1.46 0h0.36m1.46 0h0.36m1.82 0h0.36m1.46 0h0.36m7.28 0h0.36m4.00 0h0.36m9.10 0h0.36M294.18 245.66h0.36m0.73 0h0.36m5.10 0h1.09m4.73 0h0.36m0.73 0h0.36m9.10 0h0.36m0.36 0h0.36m1.46 0h0.73m1.46 0h0.36m1.46 0h0.73m0.36 0h0.73m1.09 0h0.36m1.46 0h0.73m0.36 0h0.36m2.18 0h0.73m0.36 0h0.36m1.09 0h0.36m4.37 0h0.36m1.09 0h0.36m1.46 0h0.73M293.46 248.91h1.09m2.55 0h0.36m0.36 0h0.36m2.18 0h0.36m1.82 0h0.36m1.46 0h0.36m3.64 0h0.36m0.36 0h0.36m2.18 0h0.36m0.36 0h0.36m1.82 0h0.73m5.10 0h0.36m3.64 0h0.36m0.36 0h0.73m1.82 0h0.36m0.73 0h0.36m0.36 0h0.36m2.18 0h0.36m1.09 0h0.36m1.46 0h0.73m0.36 0h0.36m0.73 0h0.36m2.18 0h0.36m2.55 0h0.73M292.00 252.15h0.36m10.19 0h0.36m4.37 0h0.36m2.55 0h0.36m6.19 0h0.36m1.09 0h0.73m0.73 0h0.36m10.56 0h0.36m5.46 0h0.36m0.36 0h0.36m1.46 0h0.36M292.36 255.40h0.36m0.73 0h1.09m0.36 0h0.36m0.73 0h0.36m0.36 0h0.36m0.36 0h0.36m0.73 0h0.36m0.36 0h0.36m0.73 0h0.73m4.00 0h0.36m0.36 0h0.36m0.36 0h0.73m0.36 0h0.73m1.46 0h0.36m1.82 0h0.36m0.36 0h0.73m0.73 0h0.73m0.73 0h0.36m1.82 0h0.36m0.36 0h1.09m2.91 0h1.82m1.09 0h1.09m2.55 0h0.73m0.36 0h0.73m0.73 0h1.09m1.46 0h0.73m0.73 0h0.36m1.09 0h0.36m0.73 0h0.36m1.09 0h0.36m0.73 0h0.36m1.09 0h1.09M295.64 258.64h0.36m2.91 0h0.36m3.28 0h0.36m8.37 0h1.09m0.73 0h0.36m1.46 0h0.36m3.64 0h0.36m5.83 0h0.36m1.46 0h0.36m4.00 0h0.36m5.10 0h0.36M295.64 261.88h0.36m35.68 0h0.36M292.00 268.38h0.36m1.46 0h0.36m0.73 0h0.73m3.28 0h0.36m1.82 0h0.36m5.46 0h0.36m2.55 0h0.73m0.36 0h0.36m4.37 0h0.36m1.09 0h0.36m0.73 0h0.36m2.55 0h0.36m1.82 0h0.36m3.64 0h0.36m1.09 0h0.36m0.73 0h0.36m4.73 0h0.73m3.28 0h0.36m0.73 0h0.36m2.18 0h0.36M304.38 271.62h0.36m4.00 0h0.36m32.40 0h0.36M334.96 274.87h0.36M292.36 281.36h0.36m2.91 0h0.36m1.09 0h0.36m7.65 0h0.36m2.18 0h0.36m10.19 0h0.73m1.82 0h0.36m3.28 0h0.73m17.84 0h0.36M294.18 284.60h0.36m1.09 0h0.36m14.56 0h0.36m7.65 0h0.36M295.64 287.85h0.36m0.73 0h0.36m0.73 0h0.36m2.55 0h0.36m1.46 0h0.36m1.09 0h0.36m2.91 0h0.36m0.73 0h0.36m2.18 0h0.36m3.64 0h0.36m0.36 0h0.36m6.92 0h0.36m0.73 0h0.36m0.73 0h0.36m0.36 0h0.36m4.00 0h0.36m4.73 0h0.36m2.18 0h0.73m4.37 0h0.36M292.36 291.09h0.36m0.36 0h0.36m0.73 0h1.09m0.36 0h1.46m3.28 0h0.36m4.00 0h0.73m2.18 0h1.09m2.55 0h0.36m2.91 0h0.36m4.00 0h0.36m0.36 0h0.36m0.36 0h0.36m1.82 0h0.73m0.36 0h0.36m0.36 0h0.73m3.28 0h0.36m1.46 0h1.46m0.36 0h1.09m0.36 0h0.73m2.91 0h0.36m0.73 0h0.36m0.36 0h0.36m0.36 0h0.73m0.73 0h0.36m1.09 0h0.73M294.18 294.34h0.36m0.36 0h0.36m4.73 0h0.36m2.91 0h0.73m1.09 0h0.36m0.36 0h0.36m1.09 0h0.73m0.73 0h0.36m1.09 0h0.73m0.36 0h0.36m0.36 0h0.73m0.73 0h0.36m0.36 0h0.36m1.09 0h0.36m0.36 0h0.36m1.09 0h0.73m0.73 0h0.36m0.73 0h0.36m2.55 0h0.73m0.36 0h0.36m0.36 0h0.36m0.73 0h0.36m2.55 0h0.36m2.18 0h0.36m1.09 0h0.36m2.18 0h0.73m0.36 0h0.36m0.36 0h0.36m4.37 0h0.36m0.73 0h0.36M292.00 297.58h0.73m1.09 0h1.09m0.73 0h0.36m2.55 0h0.73m1.09 0h0.36m5.10 0h0.36m1.46 0h0.36m1.46 0h0.36m3.28 0h0.36m2.18 0h0.36m2.18 0h0.36m4.37 0h1.09m2.55 0h0.36m2.55 0h0.36m0.73 0h0.73m0.73 0h0.73m0.73 0h0.73m2.91 0h0.36m1.82 0h0.36m1.09 0h0.73m1.82 0h0.36M294.55 300.82h0.36m4.73 0h0.36m2.18 0h0.73m0.73 0h0.36m1.09 0h1.46m0.36 0h1.09m2.55 0h0.73m1.46 0h0.36m0.36 0h0.36m2.18 0h0.36m2.18 0h0.36m0.73 0h0.73m1.09 0h0.36m2.55 0h0.73m2.55 0h0.36m1.09 0h0.36m0.73 0h0.73m2.55 0h0.36m1.82 0h0.36m1.46 0h0.36m1.82 0h0.36m1.46 0h0.36m0.36 0h0.36M293.09 304.07h0.36m0.36 0h0.36m3.28 0h0.73m14.56 0h0.36m0.73 0h0.73m1.09 0h0.36m0.36 0h0.36m2.91 0h0.36m3.28 0h0.36m2.18 0h0.36m2.55 0h0.36m1.82 0h0.36m0.36 0h0.36m4.00 0h0.36m0.73 0h0.36m1.82 0h0.36m2.18 0h0.36M296.73 307.31h0.36m2.18 0h0.73m0.73 0h0.36m1.09 0h0.73m2.18 0h1.09m0.73 0h0.36m1.82 0h1.09m0.36 0h0.36m1.09 0h0.73m0.73 0h0.73m5.10 0h0.36m0.36 0h0.36m0.73 0h0.36m2.18 0h0.73m0.73 0h0.36m2.18 0h0.73m1.09 0h1.09m0.36 0h0.36m1.82 0h0.36m0.36 0h0.36m0.36 0h0.73m0.36 0h0.36m0.73 0h0.36m0.73 0h0.36m1.46 0h0.36m1.09 0h0.36M293.46 310.56h0.73m0.36 0h0.36m4.37 0h0.36m8.37 0h0.36m0.73 0h0.36m0.36 0h0.36m5.10 0h0.36m2.18 0h0.36m4.00 0h0.73m0.36 0h0.36m0.36 0h0.36m1.09 0h0.36m0.73 0h0.36m2.55 0h0.36m1.09 0h0.36m2.91 0h0.73m1.46 0h0.36m2.55 0h0.73M292.00 313.81h0.36m0.73 0h0.36m2.55 0h0.36m1.82 0h0.73m5.46 0h0.36m1.82 0h0.36m1.46 0h0.36m0.36 0h0.36m1.46 0h0.36m1.46 0h0.36m6.19 0h0.36m0.36 0h0.36m1.82 0h0.36m0.36 0h0.36m1.09 0h0.73m1.46 0h0.36m4.73 0h0.36m0.73 0h0.73m0.73 0h0.36m0.36 0h0.36m1.82 0h0.73m1.46 0h0.36M292.73 317.05h0.36m5.10 0h0.36m8.37 0h0.36m5.83 0h0.36m1.09 0h0.36m2.91 0h0.36m2.18 0h0.36m2.55 0h0.36m3.64 0h0.36m10.56 0h0.36M292.00 320.30h0.36m1.09 0h0.36m2.55 0h0.36m0.36 0h0.36m0.73 0h0.36m11.29 0h0.36m0.36 0h0.36m3.28 0h1.09m11.65 0h0.36m1.09 0h0.36m7.65 0h0.36m3.64 0h0.36m0.73 0h0.36m0.36 0h0.73M295.64 323.54h0.36m3.28 0h0.36m1.46 0h0.36m2.55 0h0.36m3.64 0h0.36m1.46 0h0.36m5.46 0h0.36m1.09 0h0.36m2.18 0h0.36m0.73 0h0.36m2.18 0h0.73m1.09 0h0.36m1.46 0h0.36m0.36 0h0.36m1.82 0h0.36m13.11 0h0.36M292.36 326.79h0.36m2.55 0h0.36m2.18 0h0.36m4.00 0h0.36m5.46 0h0.36m7.28 0h1.09m8.37 0h0.36m0.73 0h0.36m0.36 0h0.36m0.73 0h0.36m5.83 0h0.36m3.64 0h0.36m3.28 0h0.73M292.73 330.03h0.36m17.84 0h0.36m25.12 0h0.36m3.28 0h0.36" stroke="#c2047a" stroke-width="3.0" fill="none"/></g><rect x="7" y="13.1" width="90" height="9.5" fill="#a50d2c"/><text x="45.8" y="20.3" font-size="6.3" fill="#fff" textLength="12.1" lengthAdjust="spacingAndGlyphs">NEC</text><rect x="97" y="13.1" width="40" height="9.5" fill="#2b4a86"/><text x="98.6" y="20.3" font-size="6.3" fill="#fff" textLength="36.9" lengthAdjust="spacingAndGlyphs">SOCS1/SGK1</text><rect x="137" y="13.1" width="36" height="9.5" fill="#69aa3b"/><text x="141.1" y="20.3" font-size="6.3" fill="#fff" textLength="30.0" lengthAdjust="spacingAndGlyphs">TET2/SGK1</text><rect x="173" y="13.1" width="55" height="9.5" fill="#5a2471"/><text x="191.9" y="20.3" font-size="6.3" fill="#fff" textLength="19.6" lengthAdjust="spacingAndGlyphs">MYD88</text><rect x="228" y="13.1" width="64" height="9.5" fill="#e08c1c"/><text x="253.0" y="20.3" font-size="6.3" fill="#fff" textLength="14.5" lengthAdjust="spacingAndGlyphs">BCL2</text><rect x="292" y="13.1" width="51.69999999999999" height="9.5" fill="#c4077e"/><text x="303.6" y="20.3" font-size="6.3" fill="#fff" textLength="24.3" lengthAdjust="spacingAndGlyphs">NOTCH2</text><g transform="rotate(0.05,360,180)" font-size="3.0" letter-spacing="0.08" fill="#1e1e1e"><text x="348.2" y="26.05">NOTCH1</text><text x="348.2" y="29.30">REL_amp</text><text x="348.2" y="32.54">TP53_HD</text><text x="348.2" y="35.78">SOCS1</text><text x="348.2" y="39.03">CD83</text><text x="348.2" y="42.27">SGK1</text><text x="348.2" y="45.52">NFKBIA</text><text x="348.2" y="48.77">HIST1H1E</text><text x="348.2" y="52.01">LTB</text><text x="348.2" y="55.25">HIST1H1B</text><text x="348.2" y="58.50">HIST1H1C</text><text x="348.2" y="61.74">STAT3</text><text x="348.2" y="64.99">BCL7A</text><text x="348.2" y="68.23">HIST1H2AC</text><text x="348.2" y="71.48">ITPKB</text><text x="348.2" y="74.73">NFKBIE</text><text x="348.2" y="77.97">HIST1H2BJ</text><text x="348.2" y="81.21">GNA13</text><text x="348.2" y="84.46">EGR1</text><text x="348.2" y="87.70">ETS1</text><text x="348.2" y="90.95">HIST1H2BD</text><text x="348.2" y="94.19">HIST1H2BC</text><text x="348.2" y="97.44">TLR2</text><text x="348.2" y="100.69">XPO1</text><text x="348.2" y="103.93">HIST1H2AM</text><text x="348.2" y="107.17">HIST1H2AG</text><text x="348.2" y="110.42">CIITA</text><text x="348.2" y="113.67">IRF1</text><text x="348.2" y="116.91">BCL6</text><text x="348.2" y="120.16">ARID1A</text><text x="348.2" y="123.40">PAX5</text><text x="348.2" y="126.64">SPOP_amp</text><text x="348.2" y="129.89">BCL11A_amp</text><text x="348.2" y="133.14">BTK</text><text x="348.2" y="136.38">HIST1H2BO</text><text x="348.2" y="139.62">TET2</text><text x="348.2" y="142.87">BRAF</text><text x="348.2" y="146.12">KLHL6</text><text x="348.2" y="149.36">ID3</text><text x="348.2" y="152.61">MAP2K1</text><text x="348.2" y="155.85">TNF</text><text x="348.2" y="159.10">KRAS</text><text x="348.2" y="162.34">P2RY8</text><text x="348.2" y="165.59">EBF1</text><text x="348.2" y="168.83">PTPN6</text><text x="348.2" y="172.08">ZFP36L1</text><text x="348.2" y="175.32">HIST1H3B</text><text x="348.2" y="178.57">MGA</text><text x="348.2" y="181.81">BCOR</text><text x="348.2" y="185.06">PRKCB</text><text x="348.2" y="188.30">CARD11</text><text x="348.2" y="191.55">MYD88_265</text><text x="348.2" y="194.79">PIM1</text><text x="348.2" y="198.04">CD79B</text><text x="348.2" y="201.28">ETV6</text><text x="348.2" y="204.53">CDKN2A_HD</text><text x="348.2" y="207.77">PRDM1_HD</text><text x="348.2" y="211.02">TBL1XR1</text><text x="348.2" y="214.26">BTG1</text><text x="348.2" y="217.51">MPEG1</text><text x="348.2" y="220.75">BTG2</text><text x="348.2" y="224.00">SPIB</text><text x="348.2" y="227.24">IRF4</text><text x="348.2" y="230.49">MYC</text><text x="348.2" y="233.73">FAT2</text><text x="348.2" y="236.98">CD58_HD</text><text x="348.2" y="240.22">CD79A</text><text x="348.2" y="243.47">EZH2_646</text><text x="348.2" y="246.71">BCL2</text><text x="348.2" y="249.96">CREBBP</text><text x="348.2" y="253.20">TNFRSF14_HD</text><text x="348.2" y="256.44">KMT2D</text><text x="348.2" y="259.69">MEF2B</text><text x="348.2" y="262.94">STAT6</text><text x="348.2" y="266.18">EZH2_nonsyn</text><text x="348.2" y="269.43">IRF8</text><text x="348.2" y="272.67">FOXO1</text><text x="348.2" y="275.92">POU2F2_239</text><text x="348.2" y="279.16">RHOA</text><text x="348.2" y="282.41">HIST1H1D</text><text x="348.2" y="285.65">S1PR2</text><text x="348.2" y="288.90">EP300</text><text x="348.2" y="292.14">NOTCH2</text><text x="348.2" y="295.39">BCL10</text><text x="348.2" y="298.63">TNFAIP3_HD</text><text x="348.2" y="301.88">CCND3</text><text x="348.2" y="305.12">SPEN</text><text x="348.2" y="308.37">B2M</text><text x="348.2" y="311.61">TMEM30A</text><text x="348.2" y="314.86">FAS</text><text x="348.2" y="318.10">PCBP1</text><text x="348.2" y="321.35">CD70</text><text x="348.2" y="324.59">CXCR4</text><text x="348.2" y="327.84">DDX3X_HD</text><text x="348.2" y="331.08">POU2F2_nonsyn</text></g><rect x="379.8" y="24.05" width="3.10" height="1.9" fill="#b3122f"/><rect x="379.8" y="27.30" width="2.00" height="1.9" fill="#b3122f"/><rect x="379.8" y="30.54" width="2.00" height="1.9" fill="#b3122f"/><rect x="379.8" y="33.78" width="45.20" height="1.9" fill="#2c4a87"/><rect x="379.8" y="37.03" width="43.30" height="1.9" fill="#2c4a87"/><rect x="379.8" y="40.27" width="38.30" height="1.9" fill="#8ea3c9"/><rect x="379.8" y="40.27" width="12.10" height="1.9" fill="#6aab3c"/><rect x="379.8" y="43.52" width="30.20" height="1.9" fill="#8ea3c9"/><rect x="379.8" y="43.52" width="2.00" height="1.9" fill="#6aab3c"/><rect x="379.8" y="46.77" width="18.30" height="1.9" fill="#8ea3c9"/><rect x="379.8" y="46.77" width="4.30" height="1.9" fill="#5a2471"/><rect x="379.8" y="50.01" width="12.00" height="1.9" fill="#8ea3c9"/><rect x="379.8" y="50.01" width="4.30" height="1.9" fill="#6aab3c"/><rect x="379.8" y="53.25" width="11.20" height="1.9" fill="#8ea3c9"/><rect x="379.8" y="53.25" width="2.70" height="1.9" fill="#5a2471"/><rect x="379.8" y="56.50" width="10.80" height="1.9" fill="#2c4a87"/><rect x="379.8" y="59.74" width="10.00" height="1.9" fill="#8ea3c9"/><rect x="379.8" y="59.74" width="1.20" height="1.9" fill="#6aab3c"/><rect x="379.8" y="62.99" width="8.30" height="1.9" fill="#2c4a87"/><rect x="379.8" y="62.99" width="4.20" height="1.9" fill="#e08c1c"/><rect x="379.8" y="66.23" width="8.30" height="1.9" fill="#2c4a87"/><rect x="379.8" y="69.48" width="7.70" height="1.9" fill="#2c4a87"/><rect x="379.8" y="72.73" width="6.90" height="1.9" fill="#2c4a87"/><rect x="379.8" y="75.97" width="6.40" height="1.9" fill="#2c4a87"/><rect x="379.8" y="79.21" width="5.40" height="1.9" fill="#8ea3c9"/><rect x="379.8" y="79.21" width="2.20" height="1.9" fill="#e08c1c"/><rect x="379.8" y="82.46" width="5.40" height="1.9" fill="#2c4a87"/><rect x="379.8" y="85.70" width="5.20" height="1.9" fill="#8ea3c9"/><rect x="379.8" y="85.70" width="3.20" height="1.9" fill="#5a2471"/><rect x="379.8" y="88.95" width="5.20" height="1.9" fill="#2c4a87"/><rect x="379.8" y="92.19" width="5.00" height="1.9" fill="#2c4a87"/><rect x="379.8" y="95.44" width="5.00" height="1.9" fill="#2c4a87"/><rect x="379.8" y="98.69" width="4.80" height="1.9" fill="#2c4a87"/><rect x="379.8" y="101.93" width="4.80" height="1.9" fill="#2c4a87"/><rect x="379.8" y="105.17" width="4.30" height="1.9" fill="#2c4a87"/><rect x="379.8" y="108.42" width="4.30" height="1.9" fill="#2c4a87"/><rect x="379.8" y="111.67" width="3.70" height="1.9" fill="#2c4a87"/><rect x="379.8" y="114.91" width="3.10" height="1.9" fill="#2c4a87"/><rect x="379.8" y="114.91" width="2.20" height="1.9" fill="#c4077e"/><rect x="379.8" y="118.16" width="3.10" height="1.9" fill="#2c4a87"/><rect x="379.8" y="118.16" width="2.00" height="1.9" fill="#c4077e"/><rect x="379.8" y="121.40" width="2.70" height="1.9" fill="#8ea3c9"/><rect x="379.8" y="124.64" width="2.50" height="1.9" fill="#2c4a87"/><rect x="379.8" y="127.89" width="2.20" height="1.9" fill="#2c4a87"/><rect x="379.8" y="131.14" width="1.70" height="1.9" fill="#2c4a87"/><rect x="379.8" y="131.14" width="1.00" height="1.9" fill="#e08c1c"/><rect x="379.8" y="134.38" width="1.20" height="1.9" fill="#2c4a87"/><rect x="379.8" y="137.62" width="45.20" height="1.9" fill="#6aab3c"/><rect x="379.8" y="140.87" width="19.00" height="1.9" fill="#6aab3c"/><rect x="379.8" y="144.12" width="10.00" height="1.9" fill="#6aab3c"/><rect x="379.8" y="147.36" width="6.80" height="1.9" fill="#6aab3c"/><rect x="379.8" y="150.61" width="5.20" height="1.9" fill="#6aab3c"/><rect x="379.8" y="153.85" width="5.20" height="1.9" fill="#6aab3c"/><rect x="379.8" y="157.10" width="3.40" height="1.9" fill="#6aab3c"/><rect x="379.8" y="160.34" width="3.20" height="1.9" fill="#6aab3c"/><rect x="379.8" y="163.59" width="3.20" height="1.9" fill="#6aab3c"/><rect x="379.8" y="166.83" width="3.20" height="1.9" fill="#6aab3c"/><rect x="379.8" y="170.08" width="2.70" height="1.9" fill="#6aab3c"/><rect x="379.8" y="173.32" width="2.20" height="1.9" fill="#6aab3c"/><rect x="379.8" y="176.57" width="1.70" height="1.9" fill="#6aab3c"/><rect x="379.8" y="179.81" width="1.50" height="1.9" fill="#6aab3c"/><rect x="379.8" y="183.06" width="1.40" height="1.9" fill="#6aab3c"/><rect x="379.8" y="186.30" width="1.20" height="1.9" fill="#6aab3c"/><rect x="379.8" y="189.55" width="120.20" height="1.9" fill="#5a2471"/><rect x="379.8" y="192.79" width="73.70" height="1.9" fill="#a68cb8"/><rect x="379.8" y="192.79" width="5.20" height="1.9" fill="#2c4a87"/><rect x="379.8" y="196.04" width="59.10" height="1.9" fill="#5a2471"/><rect x="379.8" y="199.28" width="54.80" height="1.9" fill="#5a2471"/><rect x="379.8" y="202.53" width="29.30" height="1.9" fill="#a68cb8"/><rect x="379.8" y="202.53" width="3.70" height="1.9" fill="#c4077e"/><rect x="379.8" y="205.77" width="29.10" height="1.9" fill="#5a2471"/><rect x="379.8" y="209.02" width="24.30" height="1.9" fill="#5a2471"/><rect x="379.8" y="212.26" width="24.10" height="1.9" fill="#a68cb8"/><rect x="379.8" y="212.26" width="2.20" height="1.9" fill="#2c4a87"/><rect x="379.8" y="215.51" width="21.40" height="1.9" fill="#5a2471"/><rect x="379.8" y="218.75" width="16.20" height="1.9" fill="#a68cb8"/><rect x="379.8" y="218.75" width="4.70" height="1.9" fill="#2c4a87"/><rect x="379.8" y="222.00" width="5.20" height="1.9" fill="#5a2471"/><rect x="379.8" y="225.24" width="4.00" height="1.9" fill="#5a2471"/><rect x="379.8" y="228.49" width="3.70" height="1.9" fill="#5a2471"/><rect x="379.8" y="231.73" width="3.20" height="1.9" fill="#5a2471"/><rect x="379.8" y="234.98" width="2.70" height="1.9" fill="#5a2471"/><rect x="379.8" y="234.98" width="1.70" height="1.9" fill="#2c4a87"/><rect x="379.8" y="238.22" width="1.20" height="1.9" fill="#5a2471"/><rect x="379.8" y="241.47" width="62.50" height="1.9" fill="#e08c1c"/><rect x="379.8" y="244.71" width="61.20" height="1.9" fill="#e08c1c"/><rect x="379.8" y="247.96" width="44.20" height="1.9" fill="#e08c1c"/><rect x="379.8" y="251.20" width="38.20" height="1.9" fill="#f0c38a"/><rect x="379.8" y="251.20" width="2.00" height="1.9" fill="#6aab3c"/><rect x="379.8" y="254.45" width="26.70" height="1.9" fill="#f0c38a"/><rect x="379.8" y="254.45" width="2.70" height="1.9" fill="#b3122f"/><rect x="379.8" y="257.69" width="20.20" height="1.9" fill="#e08c1c"/><rect x="379.8" y="260.94" width="18.20" height="1.9" fill="#e08c1c"/><rect x="379.8" y="264.18" width="6.20" height="1.9" fill="#e08c1c"/><rect x="379.8" y="267.43" width="4.70" height="1.9" fill="#8ea3c9"/><rect x="379.8" y="267.43" width="2.20" height="1.9" fill="#e08c1c"/><rect x="379.8" y="270.67" width="3.70" height="1.9" fill="#e08c1c"/><rect x="379.8" y="273.92" width="3.20" height="1.9" fill="#e08c1c"/><rect x="379.8" y="277.16" width="2.20" height="1.9" fill="#e08c1c"/><rect x="379.8" y="280.41" width="1.70" height="1.9" fill="#e08c1c"/><rect x="379.8" y="283.65" width="1.20" height="1.9" fill="#e08c1c"/><rect x="379.8" y="286.90" width="1.00" height="1.9" fill="#e08c1c"/><rect x="379.8" y="290.14" width="33.30" height="1.9" fill="#c4077e"/><rect x="379.8" y="293.39" width="17.80" height="1.9" fill="#c4077e"/><rect x="379.8" y="296.63" width="13.30" height="1.9" fill="#e6a1cd"/><rect x="379.8" y="296.63" width="2.20" height="1.9" fill="#2c4a87"/><rect x="379.8" y="299.88" width="12.10" height="1.9" fill="#c4077e"/><rect x="379.8" y="303.12" width="11.80" height="1.9" fill="#c4077e"/><rect x="379.8" y="306.37" width="6.80" height="1.9" fill="#e6a1cd"/><rect x="379.8" y="306.37" width="2.20" height="1.9" fill="#6aab3c"/><rect x="379.8" y="309.61" width="5.80" height="1.9" fill="#c4077e"/><rect x="379.8" y="312.86" width="5.20" height="1.9" fill="#c4077e"/><rect x="379.8" y="316.10" width="2.20" height="1.9" fill="#c4077e"/><rect x="379.8" y="319.35" width="2.20" height="1.9" fill="#c4077e"/><rect x="379.8" y="322.59" width="2.20" height="1.9" fill="#c4077e"/><rect x="379.8" y="325.84" width="1.70" height="1.9" fill="#c4077e"/><rect x="379.8" y="329.08" width="1.20" height="1.9" fill="#c4077e"/><rect x="379" y="23" width="1.1" height="309.5" fill="#111"/><rect x="379" y="331.1" width="115" height="1.6" fill="#3a3a3a"/><rect x="378.9" y="331.5" width="1" height="3.2" fill="#2a2a2a"/><text x="379.4" y="345.3" font-size="8.1" fill="#1e1e1e" stroke="#1e1e1e" stroke-width="0.2" text-anchor="middle">0</text><rect x="410.9" y="331.5" width="1" height="3.2" fill="#2a2a2a"/><text x="411.4" y="345.3" font-size="8.1" fill="#1e1e1e" stroke="#1e1e1e" stroke-width="0.2" text-anchor="middle">30</text><rect x="442.6" y="331.5" width="1" height="3.2" fill="#2a2a2a"/><text x="443.1" y="345.3" font-size="8.1" fill="#1e1e1e" stroke="#1e1e1e" stroke-width="0.2" text-anchor="middle">60</text><rect x="474.6" y="331.5" width="1" height="3.2" fill="#2a2a2a"/><text x="475.1" y="345.3" font-size="8.1" fill="#1e1e1e" stroke="#1e1e1e" stroke-width="0.2" text-anchor="middle">90</text><text transform="translate(386,358) scale(0.866,1)" font-size="9" fill="#1e1e1e" stroke="#1e1e1e" stroke-width="0.2">Cluster enrichment (-log<tspan font-size="6.6" dy="1.6">10</tspan><tspan dy="-1.6">(q))</tspan></text><rect x="7.0" y="366" width="1.05" height="17" fill="#bcd8f0"/><rect x="8.0" y="366" width="1.85" height="17" fill="#faedc0"/><rect x="9.8" y="366" width="1.15" height="17" fill="#a9b98f"/><rect x="10.9" y="366" width="1.95" height="17" fill="#8ea08a"/><rect x="12.8" y="366" width="0.95" height="17" fill="#b0bd92"/><rect x="13.7" y="366" width="0.85" height="17" fill="#6a9fd0"/><rect x="15.8" y="366" width="3.05" height="17" fill="#c0cba0"/><rect x="18.8" y="366" width="1.35" height="17" fill="#eef0e0"/><rect x="20.1" y="366" width="1.85" height="17" fill="#b7d2ec"/><rect x="21.9" y="366" width="1.75" height="17" fill="#f0c53a"/><rect x="23.6" y="366" width="1.35" height="17" fill="#fbeec8"/><rect x="25.8" y="366" width="2.15" height="17" fill="#dde3c8"/><rect x="28.8" y="366" width="2.25" height="17" fill="#b5c293"/><rect x="31.0" y="366" width="1.35" height="17" fill="#93a98a"/><rect x="32.3" y="366" width="1.35" height="17" fill="#dfe4cc"/><rect x="33.6" y="366" width="1.35" height="17" fill="#b5c293"/><rect x="34.9" y="366" width="0.85" height="17" fill="#f8ecc0"/><rect x="35.7" y="366" width="2.25" height="17" fill="#ebe8c8"/><rect x="37.9" y="366" width="1.35" height="17" fill="#f8e8b0"/><rect x="39.2" y="366" width="1.35" height="17" fill="#c5cb9c"/><rect x="40.5" y="366" width="2.55" height="17" fill="#b0b890"/><rect x="43.0" y="366" width="1.45" height="17" fill="#e8c448"/><rect x="44.4" y="366" width="1.35" height="17" fill="#b8c090"/><rect x="45.7" y="366" width="1.55" height="17" fill="#b8d5f0"/><rect x="47.2" y="366" width="1.75" height="17" fill="#aab784"/><rect x="48.9" y="366" width="1.35" height="17" fill="#f6f0d8"/><rect x="50.2" y="366" width="1.35" height="17" fill="#f8e8b8"/><rect x="51.5" y="366" width="1.75" height="17" fill="#f4f0dc"/><rect x="53.2" y="366" width="2.65" height="17" fill="#a4ae74"/><rect x="55.8" y="366" width="1.75" height="17" fill="#e4eef4"/><rect x="57.5" y="366" width="1.85" height="17" fill="#8fb6dc"/><rect x="59.3" y="366" width="1.75" height="17" fill="#f6e6b0"/><rect x="61.0" y="366" width="1.75" height="17" fill="#b8c090"/><rect x="62.7" y="366" width="1.85" height="17" fill="#f4f0dc"/><rect x="64.5" y="366" width="2.15" height="17" fill="#fbf0cc"/><rect x="66.6" y="366" width="1.35" height="17" fill="#cfdde0"/><rect x="67.9" y="366" width="1.35" height="17" fill="#8db5dd"/><rect x="69.2" y="366" width="1.85" height="17" fill="#f8ecc4"/><rect x="71.0" y="366" width="2.55" height="17" fill="#f8e8b0"/><rect x="73.5" y="366" width="1.35" height="17" fill="#b4be8c"/><rect x="74.8" y="366" width="1.35" height="17" fill="#90b8dc"/><rect x="76.1" y="366" width="1.35" height="17" fill="#b8b478"/><rect x="77.4" y="366" width="1.35" height="17" fill="#f4f0dc"/><rect x="78.7" y="366" width="1.35" height="17" fill="#b5b070"/><rect x="80.0" y="366" width="1.35" height="17" fill="#f8e8b0"/><rect x="81.3" y="366" width="1.75" height="17" fill="#f8f4e4"/><rect x="83.0" y="366" width="1.45" height="17" fill="#7fb0e0"/><rect x="84.4" y="366" width="1.75" height="17" fill="#f5cf5a"/><rect x="86.1" y="366" width="1.75" height="17" fill="#b4ad5c"/><rect x="87.8" y="366" width="0.25" height="17" fill="#f4f0dc"/><rect x="88.0" y="366" width="1.35" height="17" fill="#a9c9d8"/><rect x="89.3" y="366" width="1.35" height="17" fill="#d8c470"/><rect x="90.6" y="366" width="1.35" height="17" fill="#f8f0d8"/><rect x="91.9" y="366" width="2.15" height="17" fill="#f2dd90"/><rect x="94.0" y="366" width="0.95" height="17" fill="#f8f0d8"/><rect x="94.9" y="366" width="1.85" height="17" fill="#9cc0cf"/><rect x="96.7" y="366" width="0.85" height="17" fill="#f6e6b0"/><rect x="97.5" y="366" width="2.65" height="17" fill="#efca50"/><rect x="100.1" y="366" width="3.55" height="17" fill="#f7e4a8"/><rect x="103.6" y="366" width="1.75" height="17" fill="#f8f0d8"/><rect x="105.3" y="366" width="0.95" height="17" fill="#c0d8ec"/><rect x="106.2" y="366" width="2.65" height="17" fill="#f1c73a"/><rect x="108.8" y="366" width="0.85" height="17" fill="#c8c890"/><rect x="109.6" y="366" width="1.85" height="17" fill="#f6e6b0"/><rect x="111.4" y="366" width="2.65" height="17" fill="#eecb4e"/><rect x="114.0" y="366" width="2.55" height="17" fill="#e9c545"/><rect x="116.5" y="366" width="1.35" height="17" fill="#f8f0d8"/><rect x="117.8" y="366" width="2.25" height="17" fill="#e6b824"/><rect x="120.0" y="366" width="1.35" height="17" fill="#f8f0d8"/><rect x="121.3" y="366" width="1.35" height="17" fill="#d4d095"/><rect x="122.6" y="366" width="1.75" height="17" fill="#f8f0d8"/><rect x="124.3" y="366" width="2.25" height="17" fill="#e4bc3c"/><rect x="127.8" y="366" width="1.35" height="17" fill="#c0d8ec"/><rect x="129.1" y="366" width="1.35" height="17" fill="#f6e6b0"/><rect x="130.4" y="366" width="1.95" height="17" fill="#f0cc50"/><rect x="132.3" y="366" width="0.95" height="17" fill="#c8bc6a"/><rect x="133.2" y="366" width="1.75" height="17" fill="#e8b820"/><rect x="134.9" y="366" width="1.35" height="17" fill="#f8f0d8"/><rect x="136.2" y="366" width="1.35" height="17" fill="#f6e6b0"/><rect x="137.5" y="366" width="1.35" height="17" fill="#bfb57a"/><rect x="138.8" y="366" width="1.35" height="17" fill="#cfe3f5"/><rect x="141.4" y="366" width="2.15" height="17" fill="#f5e5b0"/><rect x="143.5" y="366" width="2.25" height="17" fill="#c4b464"/><rect x="145.7" y="366" width="1.35" height="17" fill="#f8f0d8"/><rect x="147.0" y="366" width="1.35" height="17" fill="#ecc548"/><rect x="148.3" y="366" width="1.35" height="17" fill="#f8f0d8"/><rect x="149.6" y="366" width="1.35" height="17" fill="#f6e6b0"/><rect x="150.9" y="366" width="1.35" height="17" fill="#f8f0d8"/><rect x="152.2" y="366" width="1.75" height="17" fill="#e0b430"/><rect x="153.9" y="366" width="1.35" height="17" fill="#f6e6b0"/><rect x="155.2" y="366" width="1.85" height="17" fill="#faf2dc"/><rect x="157.0" y="366" width="1.25" height="17" fill="#b8c8b8"/><rect x="158.2" y="366" width="1.85" height="17" fill="#d4c270"/><rect x="160.0" y="366" width="1.75" height="17" fill="#f8f0d8"/><rect x="161.7" y="366" width="1.35" height="17" fill="#dce8ec"/><rect x="163.0" y="366" width="1.75" height="17" fill="#f8d060"/><rect x="164.7" y="366" width="1.35" height="17" fill="#a8c4c8"/><rect x="166.0" y="366" width="1.35" height="17" fill="#e8c040"/><rect x="167.3" y="366" width="1.85" height="17" fill="#d8c470"/><rect x="169.1" y="366" width="1.35" height="17" fill="#f8f0d8"/><rect x="170.4" y="366" width="2.15" height="17" fill="#c4b055"/><rect x="172.5" y="366" width="0.95" height="17" fill="#f8f0d8"/><rect x="173.4" y="366" width="1.95" height="17" fill="#90c0f0"/><rect x="177.0" y="366" width="1.85" height="17" fill="#a8c4d8"/><rect x="178.8" y="366" width="1.35" height="17" fill="#90bde8"/><rect x="180.1" y="366" width="2.65" height="17" fill="#cfe2f5"/><rect x="184.0" y="366" width="2.55" height="17" fill="#9cc4ec"/><rect x="187.8" y="366" width="2.65" height="17" fill="#c2daf2"/><rect x="190.4" y="366" width="1.35" height="17" fill="#9cc4ec"/><rect x="191.7" y="366" width="1.85" height="17" fill="#f3f1dc"/><rect x="194.8" y="366" width="1.75" height="17" fill="#a8c4c0"/><rect x="196.5" y="366" width="1.75" height="17" fill="#9cc4ec"/><rect x="198.2" y="366" width="1.75" height="17" fill="#d8d8a0"/><rect x="199.9" y="366" width="1.85" height="17" fill="#c8e0f5"/><rect x="201.7" y="366" width="2.15" height="17" fill="#b8d5f0"/><rect x="205.6" y="366" width="1.75" height="17" fill="#a8bca8"/><rect x="208.6" y="366" width="1.75" height="17" fill="#c8e0f5"/><rect x="210.3" y="366" width="2.25" height="17" fill="#eef4f8"/><rect x="212.5" y="366" width="1.75" height="17" fill="#70a8e0"/><rect x="214.2" y="366" width="1.35" height="17" fill="#d0e4f4"/><rect x="215.5" y="366" width="1.35" height="17" fill="#a8c4cc"/><rect x="216.8" y="366" width="2.45" height="17" fill="#c8e0f5"/><rect x="219.2" y="366" width="1.75" height="17" fill="#eef6fc"/><rect x="220.9" y="366" width="1.75" height="17" fill="#b0d0f0"/><rect x="222.6" y="366" width="3.55" height="17" fill="#90c0e8"/><rect x="226.1" y="366" width="1.75" height="17" fill="#ece8d0"/><rect x="227.8" y="366" width="2.25" height="17" fill="#d8c468"/><rect x="230.0" y="366" width="3.05" height="17" fill="#f0cc50"/><rect x="233.0" y="366" width="1.35" height="17" fill="#f6e6b0"/><rect x="234.3" y="366" width="1.35" height="17" fill="#c8b860"/><rect x="235.6" y="366" width="2.25" height="17" fill="#f0cc50"/><rect x="237.8" y="366" width="1.75" height="17" fill="#e8c030"/><rect x="239.5" y="366" width="1.35" height="17" fill="#f8f0d8"/><rect x="240.8" y="366" width="1.75" height="17" fill="#b8cccc"/><rect x="242.5" y="366" width="2.25" height="17" fill="#f0d070"/><rect x="244.7" y="366" width="1.75" height="17" fill="#d8c870"/><rect x="246.4" y="366" width="1.75" height="17" fill="#f8f0d8"/><rect x="248.1" y="366" width="2.25" height="17" fill="#f8e0a0"/><rect x="250.3" y="366" width="1.35" height="17" fill="#c8c890"/><rect x="251.6" y="366" width="1.75" height="17" fill="#fcf0d0"/><rect x="253.3" y="366" width="3.55" height="17" fill="#f0c848"/><rect x="256.8" y="366" width="1.75" height="17" fill="#dce8ec"/><rect x="258.5" y="366" width="1.35" height="17" fill="#f6e6b0"/><rect x="259.8" y="366" width="1.55" height="17" fill="#f8e8b8"/><rect x="261.3" y="366" width="4.75" height="17" fill="#f0c848"/><rect x="266.0" y="366" width="0.95" height="17" fill="#c8b450"/><rect x="266.9" y="366" width="2.65" height="17" fill="#f4d880"/><rect x="269.5" y="366" width="1.35" height="17" fill="#c0d8ec"/><rect x="270.8" y="366" width="4.35" height="17" fill="#ecc448"/><rect x="275.1" y="366" width="0.95" height="17" fill="#f8f0d8"/><rect x="276.0" y="366" width="1.35" height="17" fill="#f0c848"/><rect x="277.3" y="366" width="2.25" height="17" fill="#e8b828"/><rect x="279.5" y="366" width="1.35" height="17" fill="#f6e6b0"/><rect x="280.8" y="366" width="2.65" height="17" fill="#d8c878"/><rect x="283.4" y="366" width="2.15" height="17" fill="#f6e6b0"/><rect x="286.4" y="366" width="2.15" height="17" fill="#fcecc0"/><rect x="288.5" y="366" width="1.35" height="17" fill="#c0b058"/><rect x="289.8" y="366" width="2.65" height="17" fill="#f0d060"/><rect x="292.4" y="366" width="1.35" height="17" fill="#f8f0d8"/><rect x="293.7" y="366" width="1.85" height="17" fill="#c0dcf4"/><rect x="295.5" y="366" width="1.75" height="17" fill="#faf2dc"/><rect x="297.2" y="366" width="1.35" height="17" fill="#dce8f4"/><rect x="298.5" y="366" width="2.25" height="17" fill="#70aae4"/><rect x="300.7" y="366" width="1.75" height="17" fill="#a8c4cc"/><rect x="302.4" y="366" width="1.35" height="17" fill="#f6e6b0"/><rect x="303.7" y="366" width="0.65" height="17" fill="#faf0c8"/><rect x="304.3" y="366" width="0.95" height="17" fill="#a8c4cc"/><rect x="305.2" y="366" width="1.75" height="17" fill="#e8c040"/><rect x="306.9" y="366" width="1.35" height="17" fill="#a0bcc8"/><rect x="308.2" y="366" width="1.35" height="17" fill="#f8f0d8"/><rect x="309.5" y="366" width="1.35" height="17" fill="#b8c090"/><rect x="310.8" y="366" width="1.35" height="17" fill="#a8c4cc"/><rect x="312.1" y="366" width="1.35" height="17" fill="#f8f0d8"/><rect x="313.4" y="366" width="2.65" height="17" fill="#f0d060"/><rect x="316.0" y="366" width="1.35" height="17" fill="#b8c090"/><rect x="317.3" y="366" width="1.35" height="17" fill="#f6e6b0"/><rect x="318.6" y="366" width="1.75" height="17" fill="#c0c090"/><rect x="320.3" y="366" width="1.35" height="17" fill="#f8f0d8"/><rect x="321.6" y="366" width="0.95" height="17" fill="#e8c040"/><rect x="322.5" y="366" width="1.35" height="17" fill="#f8f0d8"/><rect x="323.8" y="366" width="1.75" height="17" fill="#b0c0a0"/><rect x="325.5" y="366" width="2.25" height="17" fill="#80b8e8"/><rect x="327.7" y="366" width="1.35" height="17" fill="#d0e4f0"/><rect x="329.0" y="366" width="1.25" height="17" fill="#b8c090"/><rect x="330.2" y="366" width="0.95" height="17" fill="#e8c040"/><rect x="331.1" y="366" width="1.75" height="17" fill="#a8c8d8"/><rect x="332.8" y="366" width="1.35" height="17" fill="#b8c090"/><rect x="334.1" y="366" width="1.35" height="17" fill="#a8c4cc"/><rect x="335.4" y="366" width="1.85" height="17" fill="#d8c878"/><rect x="337.2" y="366" width="1.75" height="17" fill="#88b8e0"/><rect x="338.9" y="366" width="1.35" height="17" fill="#f8f0d8"/><rect x="340.2" y="366" width="1.75" height="17" fill="#c0b060"/><rect x="341.9" y="366" width="1.85" height="17" fill="#a8b888"/><text x="352.7" y="377.1" font-size="7.3" fill="#262626" stroke="#262626" stroke-width="0.15" textLength="45.2" lengthAdjust="spacingAndGlyphs">Cell of Origin</text><rect x="408" y="370.5" width="9" height="8.1" fill="#62a0dc"/><text x="420.3" y="377.3" font-size="7.6" fill="#262626" stroke="#262626" stroke-width="0.15" textLength="14.7" lengthAdjust="spacingAndGlyphs">ABC</text><rect x="445.7" y="370.5" width="9" height="8.1" fill="#eab822"/><text x="457.7" y="377.3" font-size="7.6" fill="#262626" stroke="#262626" stroke-width="0.15" textLength="15.7" lengthAdjust="spacingAndGlyphs">GCB</text><rect x="483.6" y="370.5" width="9" height="8.1" fill="#a4b67e"/><text x="495.8" y="377.3" font-size="7.6" fill="#262626" stroke="#262626" stroke-width="0.15" textLength="16.7" lengthAdjust="spacingAndGlyphs">UNC</text><rect x="0" y="0" width="520" height="1.1" fill="#000"/><rect x="0" y="0" width="1.2" height="390" fill="#000"/><rect x="518.7" y="0" width="1.3" height="390" fill="#000"/><rect x="0" y="388.7" width="520" height="1.3" fill="#000"/></svg></body></html>
